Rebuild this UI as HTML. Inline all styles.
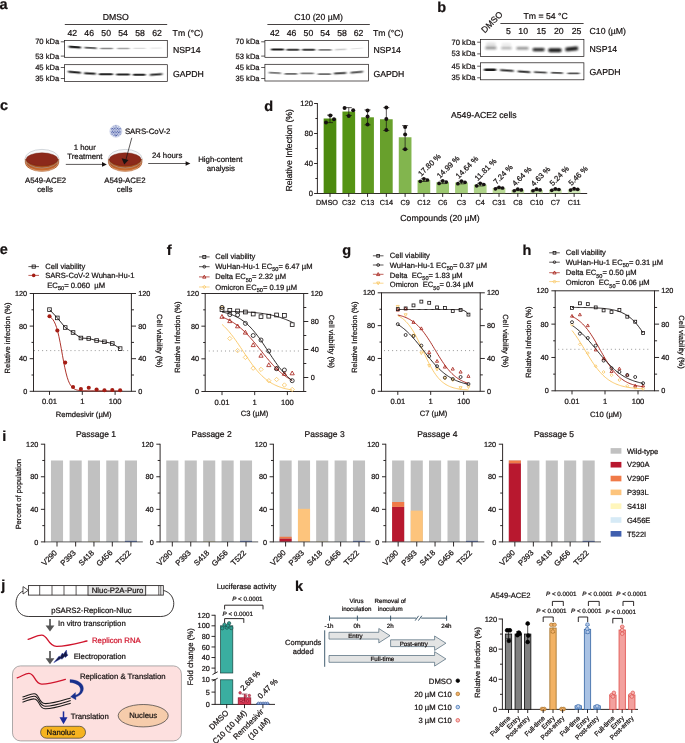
<!DOCTYPE html>
<html lang="en">
<head>
<meta charset="utf-8">
<title>NSP14 inhibitor figure</title>
<style>
html,body{margin:0;padding:0;background:#fff;}
body{width:685px;height:743px;overflow:hidden;}
svg{display:block;opacity:0.999;will-change:transform;font-family:"Liberation Sans",sans-serif;}
svg text{fill:#171212;stroke:#171212;stroke-width:0.22px;paint-order:stroke fill;text-rendering:geometricPrecision;}
</style>
</head>
<body>
<svg width="685" height="743" viewBox="0 0 685 743">
<defs>
<filter id="bl" x="-30%" y="-80%" width="160%" height="260%"><feGaussianBlur stdDeviation="0.9 0.62"/></filter>
<filter id="bl2" x="-30%" y="-120%" width="160%" height="340%"><feGaussianBlur stdDeviation="1.05 0.95"/></filter>
<linearGradient id="dg" x1="0" y1="0" x2="0" y2="1"><stop offset="0" stop-color="#9c4519"/><stop offset="0.55" stop-color="#b85a24"/><stop offset="1" stop-color="#cf7434"/></linearGradient>
<clipPath id="c64"><rect x="65.0" y="30" width="101.9" height="60"/></clipPath>
<clipPath id="c265"><rect x="265.3" y="30" width="102.8" height="60"/></clipPath>
<clipPath id="c481"><rect x="481.0" y="30" width="102.5" height="60"/></clipPath>
</defs>
<rect width="685" height="743" fill="#ffffff"/>
<text x="-0.40" y="8.60" font-size="14.5" font-weight="bold">a</text>
<text x="115.80" y="19.60" font-size="8.7" text-anchor="middle">DMSO</text>
<line x1="64.80" y1="24.50" x2="167.20" y2="24.50" stroke="#171212" stroke-width="0.8"/>
<text x="72.30" y="35.70" font-size="8.7" text-anchor="middle">42</text>
<text x="89.20" y="35.70" font-size="8.7" text-anchor="middle">46</text>
<text x="106.20" y="35.70" font-size="8.7" text-anchor="middle">50</text>
<text x="123.10" y="35.70" font-size="8.7" text-anchor="middle">54</text>
<text x="140.00" y="35.70" font-size="8.7" text-anchor="middle">58</text>
<text x="157.00" y="35.70" font-size="8.7" text-anchor="middle">62</text>
<text x="172.60" y="35.70" font-size="8.7">Tm (°C)</text>
<rect x="64.60" y="40.60" width="102.70" height="16.70" fill="#fff" stroke="#171212" stroke-width="0.7"/>
<rect x="64.60" y="64.70" width="102.70" height="16.70" fill="#fff" stroke="#171212" stroke-width="0.7"/>
<text x="59.20" y="44.30" font-size="7.6" text-anchor="end">70 kDa</text>
<line x1="60.80" y1="41.80" x2="64.60" y2="41.80" stroke="#171212" stroke-width="0.7"/>
<text x="59.20" y="58.60" font-size="7.6" text-anchor="end">53 kDa</text>
<line x1="60.80" y1="56.10" x2="64.60" y2="56.10" stroke="#171212" stroke-width="0.7"/>
<text x="59.20" y="70.00" font-size="7.6" text-anchor="end">45 kDa</text>
<line x1="60.80" y1="67.50" x2="64.60" y2="67.50" stroke="#171212" stroke-width="0.7"/>
<text x="59.20" y="81.00" font-size="7.6" text-anchor="end">35 kDa</text>
<line x1="60.80" y1="78.50" x2="64.60" y2="78.50" stroke="#171212" stroke-width="0.7"/>
<g clip-path="url(#c64)">
<rect x="68.60" y="46.09" width="12.40" height="2.22" rx="1.11" fill="#141414" opacity="0.95" filter="url(#bl)" transform="rotate(4 74.80 47.20)"/>
<rect x="84.40" y="46.94" width="12.40" height="1.92" rx="0.96" fill="#141414" opacity="0.72" filter="url(#bl)" transform="rotate(3 90.60 47.90)"/>
<rect x="100.20" y="47.76" width="12.80" height="1.48" rx="0.74" fill="#141414" opacity="0.5" filter="url(#bl)"/>
<rect x="117.20" y="47.83" width="12.40" height="1.33" rx="0.67" fill="#141414" opacity="0.38" filter="url(#bl)"/>
<rect x="133.40" y="47.81" width="12.20" height="1.18" rx="0.59" fill="#141414" opacity="0.15" filter="url(#bl)"/>
<rect x="150.40" y="47.55" width="11.40" height="1.11" rx="0.55" fill="#141414" opacity="0.1" filter="url(#bl)" transform="rotate(-2 156.10 48.10)"/>
<rect x="68.00" y="71.30" width="13.00" height="2.00" rx="1.00" fill="#141414" opacity="0.97" filter="url(#bl)" transform="rotate(5 74.50 72.30)"/>
<rect x="84.00" y="72.60" width="11.90" height="2.00" rx="1.00" fill="#141414" opacity="0.95" filter="url(#bl)" transform="rotate(3 89.95 73.60)"/>
<rect x="98.80" y="73.24" width="14.20" height="1.92" rx="0.96" fill="#141414" opacity="0.93" filter="url(#bl)"/>
<rect x="116.20" y="73.54" width="13.80" height="1.92" rx="0.96" fill="#141414" opacity="0.93" filter="url(#bl)"/>
<rect x="132.90" y="73.70" width="12.70" height="2.00" rx="1.00" fill="#141414" opacity="0.93" filter="url(#bl)"/>
<rect x="149.70" y="73.50" width="12.80" height="2.00" rx="1.00" fill="#141414" opacity="0.9" filter="url(#bl)" transform="rotate(-4 156.10 74.50)"/>
</g>
<text x="173.00" y="52.80" font-size="8.7">NSP14</text>
<text x="173.00" y="76.60" font-size="8.7">GAPDH</text>
<text x="318.60" y="19.60" font-size="8.7" text-anchor="middle">C10 (20 µM)</text>
<line x1="267.40" y1="24.50" x2="369.80" y2="24.50" stroke="#171212" stroke-width="0.8"/>
<text x="274.80" y="35.70" font-size="8.7" text-anchor="middle">42</text>
<text x="291.60" y="35.70" font-size="8.7" text-anchor="middle">46</text>
<text x="308.40" y="35.70" font-size="8.7" text-anchor="middle">50</text>
<text x="325.20" y="35.70" font-size="8.7" text-anchor="middle">54</text>
<text x="342.00" y="35.70" font-size="8.7" text-anchor="middle">58</text>
<text x="358.60" y="35.70" font-size="8.7" text-anchor="middle">62</text>
<text x="372.90" y="35.70" font-size="8.7">Tm (°C)</text>
<rect x="264.90" y="40.60" width="103.60" height="16.70" fill="#fff" stroke="#171212" stroke-width="0.7"/>
<rect x="264.90" y="64.30" width="103.60" height="16.70" fill="#fff" stroke="#171212" stroke-width="0.7"/>
<text x="259.60" y="44.30" font-size="7.6" text-anchor="end">70 kDa</text>
<line x1="261.20" y1="41.80" x2="264.90" y2="41.80" stroke="#171212" stroke-width="0.7"/>
<text x="259.60" y="58.60" font-size="7.6" text-anchor="end">53 kDa</text>
<line x1="261.20" y1="56.10" x2="264.90" y2="56.10" stroke="#171212" stroke-width="0.7"/>
<text x="259.60" y="70.00" font-size="7.6" text-anchor="end">45 kDa</text>
<line x1="261.20" y1="67.50" x2="264.90" y2="67.50" stroke="#171212" stroke-width="0.7"/>
<text x="259.60" y="81.00" font-size="7.6" text-anchor="end">35 kDa</text>
<line x1="261.20" y1="78.50" x2="264.90" y2="78.50" stroke="#171212" stroke-width="0.7"/>
<g clip-path="url(#c265)">
<rect x="271.00" y="48.39" width="13.00" height="2.22" rx="1.11" fill="#141414" opacity="0.97" filter="url(#bl)"/>
<rect x="286.40" y="48.76" width="13.00" height="2.07" rx="1.04" fill="#141414" opacity="0.82" filter="url(#bl)"/>
<rect x="302.10" y="48.76" width="13.10" height="2.07" rx="1.04" fill="#141414" opacity="0.82" filter="url(#bl)"/>
<rect x="318.50" y="49.05" width="13.10" height="1.70" rx="0.85" fill="#141414" opacity="0.55" filter="url(#bl)"/>
<rect x="334.90" y="48.87" width="11.60" height="1.26" rx="0.63" fill="#141414" opacity="0.22" filter="url(#bl)" transform="rotate(-3 340.70 49.50)"/>
<rect x="350.90" y="47.95" width="12.00" height="1.11" rx="0.55" fill="#141414" opacity="0.12" filter="url(#bl)" transform="rotate(-4 356.90 48.50)"/>
<rect x="268.70" y="71.94" width="12.30" height="1.92" rx="0.96" fill="#141414" opacity="0.58" filter="url(#bl)" transform="rotate(3 274.85 72.90)"/>
<rect x="284.50" y="72.94" width="12.90" height="1.92" rx="0.96" fill="#141414" opacity="0.62" filter="url(#bl)"/>
<rect x="300.40" y="72.48" width="13.50" height="1.85" rx="0.93" fill="#141414" opacity="0.56" filter="url(#bl)"/>
<rect x="317.70" y="73.14" width="13.40" height="1.92" rx="0.96" fill="#141414" opacity="0.62" filter="url(#bl)"/>
<rect x="333.80" y="72.26" width="12.70" height="2.07" rx="1.04" fill="#141414" opacity="0.78" filter="url(#bl)" transform="rotate(-3 340.15 73.30)"/>
<rect x="350.30" y="71.30" width="12.90" height="2.00" rx="1.00" fill="#141414" opacity="0.72" filter="url(#bl)" transform="rotate(-5 356.75 72.30)"/>
</g>
<text x="373.40" y="52.80" font-size="8.7">NSP14</text>
<text x="373.40" y="76.60" font-size="8.7">GAPDH</text>
<text x="437.20" y="11.80" font-size="14.5" font-weight="bold">b</text>
<text x="545.60" y="18.80" font-size="8.7" text-anchor="middle">Tm = 54 °C</text>
<line x1="500.40" y1="23.50" x2="583.60" y2="23.50" stroke="#171212" stroke-width="0.8"/>
<text x="484.80" y="33.40" font-size="8.7" transform="rotate(-45 484.80 33.40)">DMSO</text>
<text x="508.40" y="34.40" font-size="8.7" text-anchor="middle">5</text>
<text x="523.20" y="34.40" font-size="8.7" text-anchor="middle">10</text>
<text x="541.30" y="34.40" font-size="8.7" text-anchor="middle">15</text>
<text x="558.80" y="34.40" font-size="8.7" text-anchor="middle">20</text>
<text x="576.50" y="34.40" font-size="8.7" text-anchor="middle">25</text>
<text x="589.60" y="34.40" font-size="8.7">C10 (µM)</text>
<rect x="480.60" y="39.50" width="103.30" height="16.90" fill="#fff" stroke="#171212" stroke-width="0.7"/>
<rect x="480.60" y="62.80" width="103.30" height="17.00" fill="#fff" stroke="#171212" stroke-width="0.7"/>
<text x="475.60" y="44.70" font-size="7.6" text-anchor="end">70 kDa</text>
<line x1="477.20" y1="42.20" x2="480.60" y2="42.20" stroke="#171212" stroke-width="0.7"/>
<text x="475.60" y="56.40" font-size="7.6" text-anchor="end">53 kDa</text>
<line x1="477.20" y1="53.90" x2="480.60" y2="53.90" stroke="#171212" stroke-width="0.7"/>
<text x="475.60" y="68.70" font-size="7.6" text-anchor="end">45 kDa</text>
<line x1="477.20" y1="66.20" x2="480.60" y2="66.20" stroke="#171212" stroke-width="0.7"/>
<text x="475.60" y="80.30" font-size="7.6" text-anchor="end">35 kDa</text>
<line x1="477.20" y1="77.80" x2="480.60" y2="77.80" stroke="#171212" stroke-width="0.7"/>
<g clip-path="url(#c481)">
<rect x="485.20" y="46.70" width="11.40" height="2.60" rx="1.30" fill="#141414" opacity="0.5" filter="url(#bl2)"/>
<rect x="485.80" y="42.40" width="10.20" height="4.00" rx="2.00" fill="#141414" opacity="0.13" filter="url(#bl2)"/>
<rect x="501.00" y="47.10" width="10.80" height="2.20" rx="1.10" fill="#141414" opacity="0.36" filter="url(#bl2)"/>
<rect x="501.40" y="43.00" width="9.80" height="3.60" rx="1.80" fill="#141414" opacity="0.08" filter="url(#bl2)"/>
<rect x="516.40" y="47.00" width="12.20" height="2.40" rx="1.20" fill="#141414" opacity="0.5" filter="url(#bl2)"/>
<rect x="532.60" y="48.20" width="12.00" height="2.80" rx="1.40" fill="#141414" opacity="0.95" filter="url(#bl2)"/>
<rect x="548.20" y="48.45" width="13.40" height="3.30" rx="1.65" fill="#141414" opacity="1.0" filter="url(#bl2)"/>
<rect x="565.20" y="47.20" width="13.00" height="3.20" rx="1.60" fill="#141414" opacity="1.0" filter="url(#bl2)" transform="rotate(-6 571.70 48.80)"/>
<rect x="533.40" y="49.00" width="10.60" height="1.60" rx="0.80" fill="#141414" opacity="0.55" filter="url(#bl2)"/>
<rect x="549.00" y="49.40" width="12.00" height="2.00" rx="1.00" fill="#141414" opacity="0.7" filter="url(#bl2)"/>
<rect x="566.00" y="48.00" width="11.60" height="2.00" rx="1.00" fill="#141414" opacity="0.7" filter="url(#bl2)" transform="rotate(-6 571.80 49.00)"/>
<rect x="484.00" y="68.48" width="12.20" height="2.44" rx="1.22" fill="#141414" opacity="0.97" filter="url(#bl)"/>
<rect x="500.00" y="69.43" width="13.80" height="2.15" rx="1.07" fill="#141414" opacity="0.88" filter="url(#bl)" transform="rotate(4 506.90 70.50)"/>
<rect x="517.60" y="70.63" width="12.80" height="2.15" rx="1.07" fill="#141414" opacity="0.88" filter="url(#bl)" transform="rotate(4 524.00 71.70)"/>
<rect x="533.80" y="71.38" width="13.20" height="1.85" rx="0.93" fill="#141414" opacity="0.8" filter="url(#bl)" transform="rotate(3 540.40 72.30)"/>
<rect x="551.00" y="71.98" width="12.00" height="1.85" rx="0.93" fill="#141414" opacity="0.75" filter="url(#bl)" transform="rotate(2 557.00 72.90)"/>
<rect x="567.40" y="72.41" width="12.20" height="1.78" rx="0.89" fill="#141414" opacity="0.72" filter="url(#bl)"/>
</g>
<text x="589.60" y="51.50" font-size="8.7">NSP14</text>
<text x="589.60" y="75.40" font-size="8.7">GAPDH</text>
<text x="0.00" y="109.50" font-size="14.5" font-weight="bold">c</text>
<path d="M25.10,158.70 v3.5 a16.9,9.3 0 0 0 33.80,0 v-3.5 z" fill="url(#dg)" stroke="#9c4a1c" stroke-width="0.35"/>
<path d="M25.10,158.70 a16.90,9.30 0 0 0 33.80,0 z" fill="#a8501d"/>
<path d="M25.10,159.00 A16.90,9.60 0 0 1 58.90,159.00 z" fill="#f6f7f9"/>
<ellipse cx="42.00" cy="158.70" rx="16.90" ry="9.30" fill="none" stroke="#a9b0b8" stroke-width="0.5"/>
<path d="M25.70,161.70 a16.30,9.30 0 0 0 32.60,0" fill="none" stroke="#e6cbb8" stroke-width="0.45"/>
<ellipse cx="42.00" cy="159.30" rx="15.8" ry="6.5" fill="#8c291b" stroke="#6f1f10" stroke-width="0.4"/>
<path d="M108.30,158.70 v3.5 a16.9,9.3 0 0 0 33.80,0 v-3.5 z" fill="url(#dg)" stroke="#9c4a1c" stroke-width="0.35"/>
<path d="M108.30,158.70 a16.90,9.30 0 0 0 33.80,0 z" fill="#a8501d"/>
<path d="M108.30,159.00 A16.90,9.60 0 0 1 142.10,159.00 z" fill="#f6f7f9"/>
<ellipse cx="125.20" cy="158.70" rx="16.90" ry="9.30" fill="none" stroke="#a9b0b8" stroke-width="0.5"/>
<path d="M108.90,161.70 a16.30,9.30 0 0 0 32.60,0" fill="none" stroke="#e6cbb8" stroke-width="0.45"/>
<ellipse cx="125.20" cy="159.30" rx="15.8" ry="6.5" fill="#8c291b" stroke="#6f1f10" stroke-width="0.4"/>
<text x="45.60" y="183.00" font-size="7.8" text-anchor="middle">A549-ACE2</text>
<text x="45.00" y="191.70" font-size="7.8" text-anchor="middle">cells</text>
<text x="124.90" y="183.00" font-size="7.8" text-anchor="middle">A549-ACE2</text>
<text x="124.60" y="191.70" font-size="7.8" text-anchor="middle">cells</text>
<text x="84.70" y="149.50" font-size="7.8" text-anchor="middle">1 hour</text>
<text x="84.90" y="158.80" font-size="7.8" text-anchor="middle">Treatment</text>
<line x1="65.80" y1="164.40" x2="103.80" y2="164.40" stroke="#171212" stroke-width="0.7"/>
<path d="M106.80,164.40 l-4.8,-2.3 v4.6 z" fill="#171212" stroke="none" stroke-width="0.9"/>
<line x1="148.20" y1="163.50" x2="187.40" y2="163.50" stroke="#171212" stroke-width="0.7"/>
<path d="M190.40,163.50 l-4.8,-2.3 v4.6 z" fill="#171212" stroke="none" stroke-width="0.9"/>
<text x="167.20" y="158.20" font-size="7.8" text-anchor="middle">24 hours</text>
<text x="220.30" y="162.10" font-size="7.8" text-anchor="middle">High-content</text>
<text x="220.80" y="170.90" font-size="7.8" text-anchor="middle">analysis</text>
<circle cx="115.90" cy="131.20" r="6.0" fill="#e9edf7" stroke="#8f9dcc" stroke-width="0.4"/>
<circle cx="115.90" cy="125.77" r="0.48" fill="#34489c" stroke="none" stroke-width="0.6"/>
<circle cx="113.50" cy="127.03" r="0.48" fill="#34489c" stroke="none" stroke-width="0.6"/>
<circle cx="115.09" cy="126.96" r="0.58" fill="#34489c" stroke="none" stroke-width="0.6"/>
<circle cx="116.71" cy="126.96" r="0.58" fill="#34489c" stroke="none" stroke-width="0.6"/>
<circle cx="118.30" cy="127.03" r="0.48" fill="#34489c" stroke="none" stroke-width="0.6"/>
<circle cx="111.21" cy="128.48" r="0.48" fill="#34489c" stroke="none" stroke-width="0.6"/>
<circle cx="112.65" cy="128.37" r="0.58" fill="#34489c" stroke="none" stroke-width="0.6"/>
<circle cx="114.24" cy="128.31" r="0.58" fill="#34489c" stroke="none" stroke-width="0.6"/>
<circle cx="115.90" cy="128.29" r="0.58" fill="#34489c" stroke="none" stroke-width="0.6"/>
<circle cx="117.56" cy="128.31" r="0.58" fill="#34489c" stroke="none" stroke-width="0.6"/>
<circle cx="119.15" cy="128.37" r="0.58" fill="#34489c" stroke="none" stroke-width="0.6"/>
<circle cx="120.59" cy="128.48" r="0.48" fill="#34489c" stroke="none" stroke-width="0.6"/>
<circle cx="111.84" cy="129.79" r="0.58" fill="#34489c" stroke="none" stroke-width="0.6"/>
<circle cx="113.39" cy="129.74" r="0.58" fill="#34489c" stroke="none" stroke-width="0.6"/>
<circle cx="115.05" cy="129.72" r="0.58" fill="#34489c" stroke="none" stroke-width="0.6"/>
<circle cx="116.75" cy="129.72" r="0.58" fill="#34489c" stroke="none" stroke-width="0.6"/>
<circle cx="118.41" cy="129.74" r="0.58" fill="#34489c" stroke="none" stroke-width="0.6"/>
<circle cx="119.96" cy="129.79" r="0.58" fill="#34489c" stroke="none" stroke-width="0.6"/>
<circle cx="111.10" cy="131.20" r="0.48" fill="#34489c" stroke="none" stroke-width="0.6"/>
<circle cx="112.58" cy="131.20" r="0.58" fill="#34489c" stroke="none" stroke-width="0.6"/>
<circle cx="114.20" cy="131.20" r="0.58" fill="#34489c" stroke="none" stroke-width="0.6"/>
<circle cx="115.90" cy="131.20" r="0.58" fill="#34489c" stroke="none" stroke-width="0.6"/>
<circle cx="117.60" cy="131.20" r="0.58" fill="#34489c" stroke="none" stroke-width="0.6"/>
<circle cx="119.22" cy="131.20" r="0.58" fill="#34489c" stroke="none" stroke-width="0.6"/>
<circle cx="120.70" cy="131.20" r="0.48" fill="#34489c" stroke="none" stroke-width="0.6"/>
<circle cx="111.84" cy="132.61" r="0.58" fill="#34489c" stroke="none" stroke-width="0.6"/>
<circle cx="113.39" cy="132.66" r="0.58" fill="#34489c" stroke="none" stroke-width="0.6"/>
<circle cx="115.05" cy="132.68" r="0.58" fill="#34489c" stroke="none" stroke-width="0.6"/>
<circle cx="116.75" cy="132.68" r="0.58" fill="#34489c" stroke="none" stroke-width="0.6"/>
<circle cx="118.41" cy="132.66" r="0.58" fill="#34489c" stroke="none" stroke-width="0.6"/>
<circle cx="119.96" cy="132.61" r="0.58" fill="#34489c" stroke="none" stroke-width="0.6"/>
<circle cx="111.21" cy="133.92" r="0.48" fill="#34489c" stroke="none" stroke-width="0.6"/>
<circle cx="112.65" cy="134.03" r="0.58" fill="#34489c" stroke="none" stroke-width="0.6"/>
<circle cx="114.24" cy="134.09" r="0.58" fill="#34489c" stroke="none" stroke-width="0.6"/>
<circle cx="115.90" cy="134.11" r="0.58" fill="#34489c" stroke="none" stroke-width="0.6"/>
<circle cx="117.56" cy="134.09" r="0.58" fill="#34489c" stroke="none" stroke-width="0.6"/>
<circle cx="119.15" cy="134.03" r="0.58" fill="#34489c" stroke="none" stroke-width="0.6"/>
<circle cx="120.59" cy="133.92" r="0.48" fill="#34489c" stroke="none" stroke-width="0.6"/>
<circle cx="113.50" cy="135.37" r="0.48" fill="#34489c" stroke="none" stroke-width="0.6"/>
<circle cx="115.09" cy="135.44" r="0.58" fill="#34489c" stroke="none" stroke-width="0.6"/>
<circle cx="116.71" cy="135.44" r="0.58" fill="#34489c" stroke="none" stroke-width="0.6"/>
<circle cx="118.30" cy="135.37" r="0.48" fill="#34489c" stroke="none" stroke-width="0.6"/>
<circle cx="115.90" cy="136.63" r="0.48" fill="#34489c" stroke="none" stroke-width="0.6"/>
<text x="124.90" y="134.00" font-size="7.8">SARS-CoV-2</text>
<line x1="131.80" y1="137.80" x2="125.80" y2="160.00" stroke="#171212" stroke-width="0.7"/>
<path d="M124.3,164.6 L121.6,158.3 L128.5,159.9 Z" fill="#171212" stroke="none" stroke-width="0.9"/>
<text x="264.20" y="111.00" font-size="14.5" font-weight="bold">d</text>
<line x1="317.40" y1="103.10" x2="317.40" y2="193.50" stroke="#171212" stroke-width="0.9"/>
<line x1="317.00" y1="193.50" x2="587.20" y2="193.50" stroke="#171212" stroke-width="0.9"/>
<line x1="314.10" y1="193.50" x2="317.40" y2="193.50" stroke="#171212" stroke-width="0.9"/>
<text x="312.90" y="196.20" font-size="7.6" text-anchor="end">0</text>
<line x1="314.10" y1="163.50" x2="317.40" y2="163.50" stroke="#171212" stroke-width="0.9"/>
<text x="312.90" y="166.20" font-size="7.6" text-anchor="end">40</text>
<line x1="314.10" y1="133.50" x2="317.40" y2="133.50" stroke="#171212" stroke-width="0.9"/>
<text x="312.90" y="136.20" font-size="7.6" text-anchor="end">80</text>
<line x1="314.10" y1="103.50" x2="317.40" y2="103.50" stroke="#171212" stroke-width="0.9"/>
<text x="312.90" y="106.20" font-size="7.6" text-anchor="end">120</text>
<line x1="315.40" y1="178.50" x2="317.40" y2="178.50" stroke="#171212" stroke-width="0.9"/>
<line x1="315.40" y1="148.50" x2="317.40" y2="148.50" stroke="#171212" stroke-width="0.9"/>
<line x1="315.40" y1="118.50" x2="317.40" y2="118.50" stroke="#171212" stroke-width="0.9"/>
<text x="292.30" y="150.30" font-size="8.7" text-anchor="middle" transform="rotate(-90 292.30 150.30)">Relative Infection (%)</text>
<text x="483.80" y="117.60" font-size="8.7" text-anchor="middle">A549-ACE2 cells</text>
<text x="440.00" y="220.60" font-size="8.7" text-anchor="middle">Compounds (20 µM)</text>
<rect x="323.65" y="118.50" width="12.70" height="74.70" fill="#4c8a0e" stroke="none" stroke-width="0.9"/>
<line x1="330.00" y1="193.50" x2="330.00" y2="196.90" stroke="#171212" stroke-width="0.9"/>
<text x="327.00" y="205.30" font-size="7.3" text-anchor="middle">DMSO</text>
<line x1="330.00" y1="122.62" x2="330.00" y2="115.12" stroke="#171212" stroke-width="0.7"/>
<line x1="327.00" y1="122.62" x2="333.00" y2="122.62" stroke="#171212" stroke-width="0.7"/>
<line x1="327.00" y1="115.12" x2="333.00" y2="115.12" stroke="#171212" stroke-width="0.7"/>
<circle cx="326.00" cy="122.62" r="2.0" fill="#171212" stroke="none" stroke-width="0.6"/>
<circle cx="330.30" cy="115.50" r="2.0" fill="#171212" stroke="none" stroke-width="0.6"/>
<circle cx="334.00" cy="119.25" r="2.0" fill="#171212" stroke="none" stroke-width="0.6"/>
<rect x="342.43" y="111.53" width="12.70" height="81.67" fill="#559414" stroke="none" stroke-width="0.9"/>
<line x1="348.78" y1="193.50" x2="348.78" y2="196.90" stroke="#171212" stroke-width="0.9"/>
<text x="348.78" y="205.30" font-size="7.3" text-anchor="middle">C32</text>
<line x1="348.78" y1="115.50" x2="348.78" y2="107.62" stroke="#171212" stroke-width="0.7"/>
<line x1="345.78" y1="115.50" x2="351.78" y2="115.50" stroke="#171212" stroke-width="0.7"/>
<line x1="345.78" y1="107.62" x2="351.78" y2="107.62" stroke="#171212" stroke-width="0.7"/>
<circle cx="344.58" cy="108.00" r="2.0" fill="#171212" stroke="none" stroke-width="0.6"/>
<circle cx="348.78" cy="115.88" r="2.0" fill="#171212" stroke="none" stroke-width="0.6"/>
<circle cx="353.18" cy="110.25" r="2.0" fill="#171212" stroke="none" stroke-width="0.6"/>
<rect x="361.21" y="117.30" width="12.70" height="75.90" fill="#5f9a20" stroke="none" stroke-width="0.9"/>
<line x1="367.56" y1="193.50" x2="367.56" y2="196.90" stroke="#171212" stroke-width="0.9"/>
<text x="367.56" y="205.30" font-size="7.3" text-anchor="middle">C13</text>
<line x1="367.56" y1="124.88" x2="367.56" y2="109.88" stroke="#171212" stroke-width="0.7"/>
<line x1="364.56" y1="124.88" x2="370.56" y2="124.88" stroke="#171212" stroke-width="0.7"/>
<line x1="364.56" y1="109.88" x2="370.56" y2="109.88" stroke="#171212" stroke-width="0.7"/>
<circle cx="367.56" cy="124.50" r="2.0" fill="#171212" stroke="none" stroke-width="0.6"/>
<circle cx="367.56" cy="116.62" r="2.0" fill="#171212" stroke="none" stroke-width="0.6"/>
<circle cx="367.56" cy="110.62" r="2.0" fill="#171212" stroke="none" stroke-width="0.6"/>
<rect x="379.99" y="119.25" width="12.70" height="73.95" fill="#68a02c" stroke="none" stroke-width="0.9"/>
<line x1="386.34" y1="193.50" x2="386.34" y2="196.90" stroke="#171212" stroke-width="0.9"/>
<text x="386.34" y="205.30" font-size="7.3" text-anchor="middle">C14</text>
<line x1="386.34" y1="130.50" x2="386.34" y2="107.62" stroke="#171212" stroke-width="0.7"/>
<line x1="383.34" y1="130.50" x2="389.34" y2="130.50" stroke="#171212" stroke-width="0.7"/>
<line x1="383.34" y1="107.62" x2="389.34" y2="107.62" stroke="#171212" stroke-width="0.7"/>
<circle cx="386.34" cy="130.12" r="2.0" fill="#171212" stroke="none" stroke-width="0.6"/>
<circle cx="386.34" cy="118.88" r="2.0" fill="#171212" stroke="none" stroke-width="0.6"/>
<circle cx="386.34" cy="107.62" r="2.0" fill="#171212" stroke="none" stroke-width="0.6"/>
<rect x="398.77" y="137.25" width="12.70" height="55.95" fill="#82b54e" stroke="none" stroke-width="0.9"/>
<line x1="405.12" y1="193.50" x2="405.12" y2="196.90" stroke="#171212" stroke-width="0.9"/>
<text x="405.12" y="205.30" font-size="7.3" text-anchor="middle">C9</text>
<line x1="405.12" y1="149.25" x2="405.12" y2="125.62" stroke="#171212" stroke-width="0.7"/>
<line x1="402.12" y1="149.25" x2="408.12" y2="149.25" stroke="#171212" stroke-width="0.7"/>
<line x1="402.12" y1="125.62" x2="408.12" y2="125.62" stroke="#171212" stroke-width="0.7"/>
<circle cx="405.12" cy="149.25" r="2.0" fill="#171212" stroke="none" stroke-width="0.6"/>
<circle cx="405.12" cy="134.62" r="2.0" fill="#171212" stroke="none" stroke-width="0.6"/>
<circle cx="405.12" cy="127.12" r="2.0" fill="#171212" stroke="none" stroke-width="0.6"/>
<rect x="417.55" y="180.15" width="12.70" height="13.05" fill="#8fbf5e" stroke="none" stroke-width="0.9"/>
<line x1="423.90" y1="193.50" x2="423.90" y2="196.90" stroke="#171212" stroke-width="0.9"/>
<text x="423.90" y="205.30" font-size="7.3" text-anchor="middle">C12</text>
<line x1="423.90" y1="181.50" x2="423.90" y2="178.80" stroke="#171212" stroke-width="0.7"/>
<line x1="420.90" y1="178.80" x2="426.90" y2="178.80" stroke="#171212" stroke-width="0.7"/>
<line x1="420.90" y1="181.50" x2="426.90" y2="181.50" stroke="#171212" stroke-width="0.7"/>
<circle cx="420.30" cy="181.35" r="1.85" fill="#171212" stroke="none" stroke-width="0.6"/>
<circle cx="423.90" cy="178.80" r="1.85" fill="#171212" stroke="none" stroke-width="0.6"/>
<circle cx="427.50" cy="180.00" r="1.85" fill="#171212" stroke="none" stroke-width="0.6"/>
<text x="421.30" y="176.75" font-size="7.7" transform="rotate(-45 421.30 176.75)">17.80 %</text>
<rect x="436.33" y="182.26" width="12.70" height="10.94" fill="#9cc870" stroke="none" stroke-width="0.9"/>
<line x1="442.68" y1="193.50" x2="442.68" y2="196.90" stroke="#171212" stroke-width="0.9"/>
<text x="442.68" y="205.30" font-size="7.3" text-anchor="middle">C6</text>
<line x1="442.68" y1="183.61" x2="442.68" y2="180.91" stroke="#171212" stroke-width="0.7"/>
<line x1="439.68" y1="180.91" x2="445.68" y2="180.91" stroke="#171212" stroke-width="0.7"/>
<line x1="439.68" y1="183.61" x2="445.68" y2="183.61" stroke="#171212" stroke-width="0.7"/>
<circle cx="439.08" cy="183.46" r="1.85" fill="#171212" stroke="none" stroke-width="0.6"/>
<circle cx="442.68" cy="180.91" r="1.85" fill="#171212" stroke="none" stroke-width="0.6"/>
<circle cx="446.28" cy="182.11" r="1.85" fill="#171212" stroke="none" stroke-width="0.6"/>
<text x="440.08" y="178.86" font-size="7.7" transform="rotate(-45 440.08 178.86)">14.99 %</text>
<rect x="455.11" y="182.52" width="12.70" height="10.68" fill="#a4cd7a" stroke="none" stroke-width="0.9"/>
<line x1="461.46" y1="193.50" x2="461.46" y2="196.90" stroke="#171212" stroke-width="0.9"/>
<text x="461.46" y="205.30" font-size="7.3" text-anchor="middle">C3</text>
<line x1="461.46" y1="183.87" x2="461.46" y2="181.17" stroke="#171212" stroke-width="0.7"/>
<line x1="458.46" y1="181.17" x2="464.46" y2="181.17" stroke="#171212" stroke-width="0.7"/>
<line x1="458.46" y1="183.87" x2="464.46" y2="183.87" stroke="#171212" stroke-width="0.7"/>
<circle cx="457.86" cy="183.72" r="1.85" fill="#171212" stroke="none" stroke-width="0.6"/>
<circle cx="461.46" cy="181.17" r="1.85" fill="#171212" stroke="none" stroke-width="0.6"/>
<circle cx="465.06" cy="182.37" r="1.85" fill="#171212" stroke="none" stroke-width="0.6"/>
<text x="458.86" y="179.12" font-size="7.7" transform="rotate(-45 458.86 179.12)">14.64 %</text>
<rect x="473.89" y="184.64" width="12.70" height="8.56" fill="#aed388" stroke="none" stroke-width="0.9"/>
<line x1="480.24" y1="193.50" x2="480.24" y2="196.90" stroke="#171212" stroke-width="0.9"/>
<text x="480.24" y="205.30" font-size="7.3" text-anchor="middle">C4</text>
<line x1="480.24" y1="185.99" x2="480.24" y2="183.29" stroke="#171212" stroke-width="0.7"/>
<line x1="477.24" y1="183.29" x2="483.24" y2="183.29" stroke="#171212" stroke-width="0.7"/>
<line x1="477.24" y1="185.99" x2="483.24" y2="185.99" stroke="#171212" stroke-width="0.7"/>
<circle cx="476.64" cy="185.84" r="1.85" fill="#171212" stroke="none" stroke-width="0.6"/>
<circle cx="480.24" cy="183.29" r="1.85" fill="#171212" stroke="none" stroke-width="0.6"/>
<circle cx="483.84" cy="184.49" r="1.85" fill="#171212" stroke="none" stroke-width="0.6"/>
<text x="477.64" y="181.24" font-size="7.7" transform="rotate(-45 477.64 181.24)">11.81 %</text>
<rect x="492.67" y="188.07" width="12.70" height="5.13" fill="#b8d994" stroke="none" stroke-width="0.9"/>
<line x1="499.02" y1="193.50" x2="499.02" y2="196.90" stroke="#171212" stroke-width="0.9"/>
<text x="499.02" y="205.30" font-size="7.3" text-anchor="middle">C31</text>
<line x1="499.02" y1="188.75" x2="499.02" y2="187.40" stroke="#171212" stroke-width="0.7"/>
<line x1="496.02" y1="187.40" x2="502.02" y2="187.40" stroke="#171212" stroke-width="0.7"/>
<line x1="496.02" y1="188.75" x2="502.02" y2="188.75" stroke="#171212" stroke-width="0.7"/>
<circle cx="495.42" cy="188.79" r="1.85" fill="#171212" stroke="none" stroke-width="0.6"/>
<circle cx="499.02" cy="187.26" r="1.85" fill="#171212" stroke="none" stroke-width="0.6"/>
<circle cx="502.62" cy="187.98" r="1.85" fill="#171212" stroke="none" stroke-width="0.6"/>
<text x="496.42" y="184.67" font-size="7.7" transform="rotate(-45 496.42 184.67)">7.24 %</text>
<rect x="511.45" y="190.02" width="12.70" height="3.18" fill="#c0dea0" stroke="none" stroke-width="0.9"/>
<line x1="517.80" y1="193.50" x2="517.80" y2="196.90" stroke="#171212" stroke-width="0.9"/>
<text x="517.80" y="205.30" font-size="7.3" text-anchor="middle">C8</text>
<line x1="517.80" y1="190.69" x2="517.80" y2="189.34" stroke="#171212" stroke-width="0.7"/>
<line x1="514.80" y1="189.34" x2="520.80" y2="189.34" stroke="#171212" stroke-width="0.7"/>
<line x1="514.80" y1="190.69" x2="520.80" y2="190.69" stroke="#171212" stroke-width="0.7"/>
<circle cx="514.20" cy="190.74" r="1.85" fill="#171212" stroke="none" stroke-width="0.6"/>
<circle cx="517.80" cy="189.21" r="1.85" fill="#171212" stroke="none" stroke-width="0.6"/>
<circle cx="521.40" cy="189.93" r="1.85" fill="#171212" stroke="none" stroke-width="0.6"/>
<text x="515.20" y="186.62" font-size="7.7" transform="rotate(-45 515.20 186.62)">4.64 %</text>
<rect x="530.23" y="190.03" width="12.70" height="3.17" fill="#c6e2a8" stroke="none" stroke-width="0.9"/>
<line x1="536.58" y1="193.50" x2="536.58" y2="196.90" stroke="#171212" stroke-width="0.9"/>
<text x="536.58" y="205.30" font-size="7.3" text-anchor="middle">C10</text>
<line x1="536.58" y1="190.70" x2="536.58" y2="189.35" stroke="#171212" stroke-width="0.7"/>
<line x1="533.58" y1="189.35" x2="539.58" y2="189.35" stroke="#171212" stroke-width="0.7"/>
<line x1="533.58" y1="190.70" x2="539.58" y2="190.70" stroke="#171212" stroke-width="0.7"/>
<circle cx="532.98" cy="190.75" r="1.85" fill="#171212" stroke="none" stroke-width="0.6"/>
<circle cx="536.58" cy="189.22" r="1.85" fill="#171212" stroke="none" stroke-width="0.6"/>
<circle cx="540.18" cy="189.94" r="1.85" fill="#171212" stroke="none" stroke-width="0.6"/>
<text x="533.98" y="186.63" font-size="7.7" transform="rotate(-45 533.98 186.63)">4.63 %</text>
<rect x="549.01" y="189.57" width="12.70" height="3.63" fill="#cbe5b0" stroke="none" stroke-width="0.9"/>
<line x1="555.36" y1="193.50" x2="555.36" y2="196.90" stroke="#171212" stroke-width="0.9"/>
<text x="555.36" y="205.30" font-size="7.3" text-anchor="middle">C7</text>
<line x1="555.36" y1="190.25" x2="555.36" y2="188.90" stroke="#171212" stroke-width="0.7"/>
<line x1="552.36" y1="188.90" x2="558.36" y2="188.90" stroke="#171212" stroke-width="0.7"/>
<line x1="552.36" y1="190.25" x2="558.36" y2="190.25" stroke="#171212" stroke-width="0.7"/>
<circle cx="551.76" cy="190.29" r="1.85" fill="#171212" stroke="none" stroke-width="0.6"/>
<circle cx="555.36" cy="188.76" r="1.85" fill="#171212" stroke="none" stroke-width="0.6"/>
<circle cx="558.96" cy="189.48" r="1.85" fill="#171212" stroke="none" stroke-width="0.6"/>
<text x="552.76" y="186.17" font-size="7.7" transform="rotate(-45 552.76 186.17)">5.24 %</text>
<rect x="567.79" y="189.41" width="12.70" height="3.79" fill="#d0e8b8" stroke="none" stroke-width="0.9"/>
<line x1="574.14" y1="193.50" x2="574.14" y2="196.90" stroke="#171212" stroke-width="0.9"/>
<text x="574.14" y="205.30" font-size="7.3" text-anchor="middle">C11</text>
<line x1="574.14" y1="190.08" x2="574.14" y2="188.73" stroke="#171212" stroke-width="0.7"/>
<line x1="571.14" y1="188.73" x2="577.14" y2="188.73" stroke="#171212" stroke-width="0.7"/>
<line x1="571.14" y1="190.08" x2="577.14" y2="190.08" stroke="#171212" stroke-width="0.7"/>
<circle cx="570.54" cy="190.12" r="1.85" fill="#171212" stroke="none" stroke-width="0.6"/>
<circle cx="574.14" cy="188.59" r="1.85" fill="#171212" stroke="none" stroke-width="0.6"/>
<circle cx="577.74" cy="189.31" r="1.85" fill="#171212" stroke="none" stroke-width="0.6"/>
<text x="571.54" y="186.00" font-size="7.7" transform="rotate(-45 571.54 186.00)">5.46 %</text>
<text x="-0.20" y="254.00" font-size="14.5" font-weight="bold">e</text>
<line x1="33.50" y1="293.10" x2="33.50" y2="391.70" stroke="#171212" stroke-width="0.9"/>
<line x1="131.40" y1="293.10" x2="131.40" y2="391.70" stroke="#171212" stroke-width="0.9"/>
<line x1="33.50" y1="391.30" x2="131.40" y2="391.30" stroke="#171212" stroke-width="0.9"/>
<line x1="33.50" y1="293.50" x2="131.40" y2="293.50" stroke="#171212" stroke-width="0.9"/>
<line x1="29.70" y1="391.30" x2="33.50" y2="391.30" stroke="#171212" stroke-width="0.9"/>
<text x="27.20" y="393.90" font-size="7.3" text-anchor="end">0</text>
<line x1="31.50" y1="375.00" x2="33.50" y2="375.00" stroke="#171212" stroke-width="0.9"/>
<line x1="29.70" y1="358.70" x2="33.50" y2="358.70" stroke="#171212" stroke-width="0.9"/>
<text x="27.20" y="361.30" font-size="7.3" text-anchor="end">40</text>
<line x1="31.50" y1="342.40" x2="33.50" y2="342.40" stroke="#171212" stroke-width="0.9"/>
<line x1="29.70" y1="326.10" x2="33.50" y2="326.10" stroke="#171212" stroke-width="0.9"/>
<text x="27.20" y="328.70" font-size="7.3" text-anchor="end">80</text>
<line x1="31.50" y1="309.80" x2="33.50" y2="309.80" stroke="#171212" stroke-width="0.9"/>
<line x1="29.70" y1="293.50" x2="33.50" y2="293.50" stroke="#171212" stroke-width="0.9"/>
<text x="27.20" y="296.10" font-size="7.3" text-anchor="end">120</text>
<line x1="131.40" y1="293.50" x2="136.00" y2="293.50" stroke="#171212" stroke-width="0.9"/>
<text x="138.20" y="296.10" font-size="7.3">120</text>
<line x1="131.40" y1="309.80" x2="134.00" y2="309.80" stroke="#171212" stroke-width="0.9"/>
<line x1="131.40" y1="326.10" x2="136.00" y2="326.10" stroke="#171212" stroke-width="0.9"/>
<text x="138.20" y="328.70" font-size="7.3">80</text>
<line x1="131.40" y1="342.40" x2="134.00" y2="342.40" stroke="#171212" stroke-width="0.9"/>
<line x1="131.40" y1="358.70" x2="136.00" y2="358.70" stroke="#171212" stroke-width="0.9"/>
<text x="138.20" y="361.30" font-size="7.3">40</text>
<line x1="131.40" y1="375.00" x2="134.00" y2="375.00" stroke="#171212" stroke-width="0.9"/>
<line x1="131.40" y1="391.30" x2="136.00" y2="391.30" stroke="#171212" stroke-width="0.9"/>
<text x="138.20" y="393.90" font-size="7.3">0</text>
<line x1="49.50" y1="391.30" x2="49.50" y2="394.90" stroke="#171212" stroke-width="0.9"/>
<text x="49.50" y="404.40" font-size="7.6" text-anchor="middle">0.01</text>
<line x1="82.30" y1="391.30" x2="82.30" y2="394.90" stroke="#171212" stroke-width="0.9"/>
<text x="82.30" y="404.40" font-size="7.6" text-anchor="middle">1</text>
<line x1="115.10" y1="391.30" x2="115.10" y2="394.90" stroke="#171212" stroke-width="0.9"/>
<text x="115.10" y="404.40" font-size="7.6" text-anchor="middle">100</text>
<text x="83.70" y="417.30" font-size="7.6" text-anchor="middle">Remdesivir (µM)</text>
<text x="10.10" y="338.00" font-size="7.5" text-anchor="middle" transform="rotate(-90 10.10 338.00)">Relative infection (%)</text>
<text x="156.90" y="340.80" font-size="7.5" text-anchor="middle" transform="rotate(90 156.90 340.80)">Cell viability (%)</text>
<line x1="34.00" y1="350.60" x2="130.90" y2="350.60" stroke="#8c8c8c" stroke-width="0.9" stroke-dasharray="1 3.05"/>
<line x1="28.40" y1="266.60" x2="39.00" y2="266.60" stroke="#171212" stroke-width="0.7"/>
<rect x="32.10" y="265.00" width="3.20" height="3.20" fill="none" stroke="#171212" stroke-width="0.8"/>
<text x="45.20" y="268.70" font-size="7.6">Cell viability</text>
<line x1="28.40" y1="275.40" x2="39.00" y2="275.40" stroke="#a41d14" stroke-width="0.7"/>
<circle cx="33.70" cy="275.40" r="1.8" fill="#a41d14" stroke="none" stroke-width="0.6"/>
<text x="45.20" y="277.80" font-size="7.6">SARS-CoV-2 Wuhan-Hu-1</text>
<text x="47.20" y="287.70" font-size="7.7">EC<tspan font-size="74%" dy="2.4">50</tspan><tspan dy="-2.4">= 0.060  µM</tspan></text>
<path d="M49.50,309.60 L57.35,317.90 L65.20,327.50 L73.05,332.50 L80.90,338.00 L88.75,338.50 L96.60,340.50 L104.45,341.80 L112.30,343.50 L120.15,348.60" fill="none" stroke="#171212" stroke-width="0.9"/>
<rect x="47.70" y="307.80" width="3.60" height="3.60" fill="none" stroke="#171212" stroke-width="0.8"/>
<rect x="55.55" y="316.10" width="3.60" height="3.60" fill="none" stroke="#171212" stroke-width="0.8"/>
<rect x="63.40" y="325.70" width="3.60" height="3.60" fill="none" stroke="#171212" stroke-width="0.8"/>
<rect x="71.25" y="330.70" width="3.60" height="3.60" fill="none" stroke="#171212" stroke-width="0.8"/>
<rect x="79.10" y="336.20" width="3.60" height="3.60" fill="none" stroke="#171212" stroke-width="0.8"/>
<rect x="86.95" y="336.70" width="3.60" height="3.60" fill="none" stroke="#171212" stroke-width="0.8"/>
<rect x="94.80" y="338.70" width="3.60" height="3.60" fill="none" stroke="#171212" stroke-width="0.8"/>
<rect x="102.65" y="340.00" width="3.60" height="3.60" fill="none" stroke="#171212" stroke-width="0.8"/>
<rect x="110.50" y="341.70" width="3.60" height="3.60" fill="none" stroke="#171212" stroke-width="0.8"/>
<rect x="118.35" y="346.80" width="3.60" height="3.60" fill="none" stroke="#171212" stroke-width="0.8"/>
<path d="M49.50,316.60 L50.68,317.34 L51.86,318.37 L53.04,319.78 L54.21,321.68 L55.39,324.20 L56.57,327.47 L57.75,331.58 L58.93,336.57 L60.11,342.35 L61.28,348.70 L62.46,355.30 L63.64,361.75 L64.82,367.70 L66.00,372.90 L67.17,377.23 L68.35,380.71 L69.53,383.40 L70.71,385.45 L71.89,386.96 L73.07,388.08 L74.25,388.88 L75.42,389.46 L76.60,389.88 L77.78,390.18 L78.96,390.39 L80.14,390.54 L81.31,390.64 L82.49,390.72 L83.67,390.77 L84.85,390.81 L86.03,390.84 L87.21,390.85 L88.38,390.87 L89.56,390.88 L90.74,390.88 L91.92,390.89 L93.10,390.89 L94.28,390.89 L95.46,390.90 L96.63,390.90 L97.81,390.90 L98.99,390.90 L100.17,390.90 L101.35,390.90 L102.53,390.90 L103.70,390.90 L104.88,390.90 L106.06,390.90 L107.24,390.90 L108.42,390.90 L109.59,390.90 L110.77,390.90 L111.95,390.90 L113.13,390.90 L114.31,390.90 L115.49,390.90 L116.67,390.90 L117.84,390.90 L119.02,390.90 L120.20,390.90" fill="none" stroke="#a41d14" stroke-width="0.9"/>
<circle cx="49.50" cy="316.20" r="2.05" fill="#a41d14" stroke="none" stroke-width="0.6"/>
<circle cx="57.35" cy="330.50" r="2.05" fill="#a41d14" stroke="none" stroke-width="0.6"/>
<circle cx="65.20" cy="362.60" r="2.05" fill="#a41d14" stroke="none" stroke-width="0.6"/>
<circle cx="73.05" cy="387.00" r="2.05" fill="#a41d14" stroke="none" stroke-width="0.6"/>
<circle cx="80.90" cy="389.00" r="2.05" fill="#a41d14" stroke="none" stroke-width="0.6"/>
<circle cx="88.75" cy="387.80" r="2.05" fill="#a41d14" stroke="none" stroke-width="0.6"/>
<circle cx="96.60" cy="389.50" r="2.05" fill="#a41d14" stroke="none" stroke-width="0.6"/>
<circle cx="104.45" cy="390.30" r="2.05" fill="#a41d14" stroke="none" stroke-width="0.6"/>
<circle cx="112.30" cy="390.00" r="2.05" fill="#a41d14" stroke="none" stroke-width="0.6"/>
<circle cx="120.15" cy="390.30" r="2.05" fill="#a41d14" stroke="none" stroke-width="0.6"/>
<text x="166.80" y="255.10" font-size="14.5" font-weight="bold">f</text>
<line x1="205.20" y1="293.10" x2="205.20" y2="391.90" stroke="#171212" stroke-width="0.9"/>
<line x1="303.70" y1="293.10" x2="303.70" y2="391.90" stroke="#171212" stroke-width="0.9"/>
<line x1="205.20" y1="391.50" x2="303.70" y2="391.50" stroke="#171212" stroke-width="0.9"/>
<line x1="205.20" y1="293.50" x2="303.70" y2="293.50" stroke="#171212" stroke-width="0.9"/>
<line x1="201.40" y1="391.50" x2="205.20" y2="391.50" stroke="#171212" stroke-width="0.9"/>
<text x="199.00" y="394.10" font-size="7.3" text-anchor="end">0</text>
<line x1="203.20" y1="375.17" x2="205.20" y2="375.17" stroke="#171212" stroke-width="0.9"/>
<line x1="201.40" y1="358.83" x2="205.20" y2="358.83" stroke="#171212" stroke-width="0.9"/>
<text x="199.00" y="361.43" font-size="7.3" text-anchor="end">40</text>
<line x1="203.20" y1="342.50" x2="205.20" y2="342.50" stroke="#171212" stroke-width="0.9"/>
<line x1="201.40" y1="326.17" x2="205.20" y2="326.17" stroke="#171212" stroke-width="0.9"/>
<text x="199.00" y="328.77" font-size="7.3" text-anchor="end">80</text>
<line x1="203.20" y1="309.83" x2="205.20" y2="309.83" stroke="#171212" stroke-width="0.9"/>
<line x1="201.40" y1="293.50" x2="205.20" y2="293.50" stroke="#171212" stroke-width="0.9"/>
<text x="199.00" y="296.10" font-size="7.3" text-anchor="end">120</text>
<line x1="303.70" y1="293.50" x2="308.30" y2="293.50" stroke="#171212" stroke-width="0.9"/>
<text x="310.70" y="296.10" font-size="7.3">120</text>
<line x1="303.70" y1="307.50" x2="306.30" y2="307.50" stroke="#171212" stroke-width="0.9"/>
<line x1="303.70" y1="321.50" x2="308.30" y2="321.50" stroke="#171212" stroke-width="0.9"/>
<text x="310.70" y="324.10" font-size="7.3">80</text>
<line x1="303.70" y1="335.50" x2="306.30" y2="335.50" stroke="#171212" stroke-width="0.9"/>
<line x1="303.70" y1="349.50" x2="308.30" y2="349.50" stroke="#171212" stroke-width="0.9"/>
<text x="310.70" y="352.10" font-size="7.3">40</text>
<line x1="303.70" y1="363.50" x2="306.30" y2="363.50" stroke="#171212" stroke-width="0.9"/>
<line x1="303.70" y1="377.50" x2="308.30" y2="377.50" stroke="#171212" stroke-width="0.9"/>
<text x="310.70" y="380.10" font-size="7.3">0</text>
<line x1="303.70" y1="391.50" x2="306.30" y2="391.50" stroke="#171212" stroke-width="0.9"/>
<line x1="222.00" y1="391.50" x2="222.00" y2="395.10" stroke="#171212" stroke-width="0.9"/>
<text x="222.00" y="404.60" font-size="7.6" text-anchor="middle">0.01</text>
<line x1="254.70" y1="391.50" x2="254.70" y2="395.10" stroke="#171212" stroke-width="0.9"/>
<text x="254.70" y="404.60" font-size="7.6" text-anchor="middle">1</text>
<line x1="287.40" y1="391.50" x2="287.40" y2="395.10" stroke="#171212" stroke-width="0.9"/>
<text x="287.40" y="404.60" font-size="7.6" text-anchor="middle">100</text>
<text x="254.60" y="415.70" font-size="7.6" text-anchor="middle">C3 (µM)</text>
<text x="180.20" y="337.20" font-size="7.5" text-anchor="middle" transform="rotate(-90 180.20 337.20)">Relative Infection (%)</text>
<text x="329.00" y="341.40" font-size="7.5" text-anchor="middle" transform="rotate(90 329.00 341.40)">Cell viability (%)</text>
<line x1="208.80" y1="351.00" x2="301.00" y2="351.00" stroke="#8c8c8c" stroke-width="0.9" stroke-dasharray="1 3.05"/>
<line x1="199.00" y1="256.90" x2="209.60" y2="256.90" stroke="#171212" stroke-width="0.7"/>
<rect x="202.80" y="255.40" width="3.00" height="3.00" fill="none" stroke="#171212" stroke-width="0.8"/>
<text x="215.30" y="259.20" font-size="7.6">Cell viability</text>
<line x1="199.00" y1="266.70" x2="209.60" y2="266.70" stroke="#171212" stroke-width="0.7"/>
<circle cx="204.30" cy="266.70" r="1.4" fill="none" stroke="#171212" stroke-width="0.8"/>
<text x="215.30" y="268.90" font-size="7.6">WuHan-Hu-1 EC<tspan font-size="74%" dy="2.4">50</tspan><tspan dy="-2.4">= 6.47 µM</tspan></text>
<line x1="199.00" y1="276.90" x2="209.60" y2="276.90" stroke="#a41d14" stroke-width="0.7"/>
<path d="M204.30,275.17 L205.95,278.17 L202.65,278.17 Z" fill="none" stroke="#a41d14" stroke-width="0.8"/>
<text x="215.30" y="279.30" font-size="7.6">Delta EC<tspan font-size="74%" dy="2.4">50</tspan><tspan dy="-2.4">= 2.32 µM</tspan></text>
<line x1="199.00" y1="287.00" x2="209.60" y2="287.00" stroke="#f9c560" stroke-width="0.7"/>
<path d="M204.30,285.38 L205.93,287.00 L204.30,288.62 L202.68,287.00 Z" fill="none" stroke="#f9c560" stroke-width="0.8"/>
<text x="215.30" y="289.70" font-size="7.6">Omicron EC<tspan font-size="74%" dy="2.4">50</tspan><tspan dy="-2.4">= 0.19 µM</tspan></text>
<path d="M222.00,324.40 L223.17,325.46 L224.34,326.58 L225.51,327.76 L226.68,328.99 L227.85,330.29 L229.02,331.64 L230.19,333.04 L231.36,334.50 L232.53,336.01 L233.70,337.56 L234.87,339.17 L236.04,340.81 L237.21,342.48 L238.38,344.19 L239.55,345.91 L240.72,347.66 L241.89,349.42 L243.06,351.19 L244.23,352.95 L245.40,354.71 L246.57,356.45 L247.74,358.17 L248.91,359.87 L250.08,361.54 L251.25,363.17 L252.42,364.76 L253.59,366.30 L254.76,367.80 L255.93,369.24 L257.10,370.63 L258.27,371.97 L259.44,373.25 L260.61,374.47 L261.78,375.63 L262.95,376.73 L264.12,377.78 L265.29,378.77 L266.46,379.70 L267.63,380.58 L268.80,381.41 L269.97,382.19 L271.14,382.92 L272.31,383.60 L273.48,384.23 L274.65,384.83 L275.82,385.38 L276.99,385.90 L278.16,386.37 L279.33,386.82 L280.50,387.23 L281.67,387.62 L282.84,387.97 L284.01,388.30 L285.18,388.60 L286.35,388.88 L287.52,389.14 L288.69,389.39 L289.86,389.61 L291.03,389.81 L292.20,390.00" fill="none" stroke="#f9c560" stroke-width="0.9"/>
<path d="M222.00,317.00 L223.17,317.44 L224.34,317.91 L225.51,318.41 L226.68,318.94 L227.85,319.51 L229.02,320.10 L230.19,320.73 L231.36,321.40 L232.53,322.10 L233.70,322.84 L234.87,323.63 L236.04,324.45 L237.21,325.31 L238.38,326.21 L239.55,327.16 L240.72,328.14 L241.89,329.17 L243.06,330.24 L244.23,331.35 L245.40,332.50 L246.57,333.69 L247.74,334.92 L248.91,336.18 L250.08,337.48 L251.25,338.81 L252.42,340.16 L253.59,341.55 L254.76,342.95 L255.93,344.38 L257.10,345.82 L258.27,347.28 L259.44,348.74 L260.61,350.20 L261.78,351.67 L262.95,353.13 L264.12,354.59 L265.29,356.03 L266.46,357.46 L267.63,358.87 L268.80,360.25 L269.97,361.61 L271.14,362.94 L272.31,364.24 L273.48,365.51 L274.65,366.74 L275.82,367.94 L276.99,369.09 L278.16,370.21 L279.33,371.28 L280.50,372.32 L281.67,373.31 L282.84,374.26 L284.01,375.16 L285.18,376.03 L286.35,376.86 L287.52,377.64 L288.69,378.39 L289.86,379.09 L291.03,379.77 L292.20,380.40" fill="none" stroke="#a41d14" stroke-width="0.9"/>
<path d="M222.00,312.00 L223.17,312.24 L224.34,312.50 L225.51,312.78 L226.68,313.09 L227.85,313.42 L229.02,313.77 L230.19,314.15 L231.36,314.57 L232.53,315.01 L233.70,315.49 L234.87,316.01 L236.04,316.56 L237.21,317.16 L238.38,317.80 L239.55,318.48 L240.72,319.21 L241.89,319.99 L243.06,320.82 L244.23,321.70 L245.40,322.64 L246.57,323.63 L247.74,324.68 L248.91,325.79 L250.08,326.96 L251.25,328.19 L252.42,329.47 L253.59,330.82 L254.76,332.22 L255.93,333.67 L257.10,335.18 L258.27,336.74 L259.44,338.34 L260.61,339.99 L261.78,341.67 L262.95,343.38 L264.12,345.13 L265.29,346.89 L266.46,348.67 L267.63,350.45 L268.80,352.24 L269.97,354.02 L271.14,355.80 L272.31,357.55 L273.48,359.28 L274.65,360.98 L275.82,362.65 L276.99,364.28 L278.16,365.86 L279.33,367.40 L280.50,368.88 L281.67,370.31 L282.84,371.69 L284.01,373.01 L285.18,374.27 L286.35,375.47 L287.52,376.61 L288.69,377.69 L289.86,378.72 L291.03,379.69 L292.20,380.60" fill="none" stroke="#171212" stroke-width="0.9"/>
<path d="M222.00,311.30 L223.18,311.32 L224.35,311.33 L225.53,311.35 L226.71,311.37 L227.88,311.39 L229.06,311.41 L230.24,311.43 L231.41,311.46 L232.59,311.49 L233.77,311.52 L234.94,311.55 L236.12,311.58 L237.30,311.62 L238.47,311.66 L239.65,311.70 L240.83,311.75 L242.00,311.79 L243.18,311.85 L244.36,311.90 L245.53,311.96 L246.71,312.03 L247.89,312.10 L249.06,312.17 L250.24,312.25 L251.42,312.34 L252.59,312.43 L253.77,312.53 L254.95,312.63 L256.12,312.74 L257.30,312.86 L258.48,312.99 L259.65,313.13 L260.83,313.28 L262.01,313.43 L263.18,313.60 L264.36,313.77 L265.54,313.96 L266.71,314.16 L267.89,314.38 L269.07,314.60 L270.24,314.84 L271.42,315.09 L272.60,315.36 L273.77,315.65 L274.95,315.94 L276.13,316.26 L277.30,316.59 L278.48,316.94 L279.66,317.30 L280.83,317.68 L282.01,318.08 L283.19,318.50 L284.36,318.93 L285.54,319.38 L286.72,319.84 L287.89,320.33 L289.07,320.82 L290.25,321.34 L291.42,321.86 L292.60,322.40" fill="none" stroke="#171212" stroke-width="0.9"/>
<path d="M222.00,305.71 L224.19,307.90 L222.00,310.09 L219.81,307.90 Z" fill="none" stroke="#f9c560" stroke-width="0.8"/>
<path d="M229.80,336.31 L231.99,338.50 L229.80,340.69 L227.61,338.50 Z" fill="none" stroke="#f9c560" stroke-width="0.8"/>
<path d="M237.60,348.41 L239.79,350.60 L237.60,352.79 L235.41,350.60 Z" fill="none" stroke="#f9c560" stroke-width="0.8"/>
<path d="M245.40,355.21 L247.59,357.40 L245.40,359.59 L243.21,357.40 Z" fill="none" stroke="#f9c560" stroke-width="0.8"/>
<path d="M253.20,366.01 L255.39,368.20 L253.20,370.39 L251.01,368.20 Z" fill="none" stroke="#f9c560" stroke-width="0.8"/>
<path d="M261.00,367.21 L263.19,369.40 L261.00,371.59 L258.81,369.40 Z" fill="none" stroke="#f9c560" stroke-width="0.8"/>
<path d="M268.80,378.51 L270.99,380.70 L268.80,382.89 L266.61,380.70 Z" fill="none" stroke="#f9c560" stroke-width="0.8"/>
<path d="M276.60,377.31 L278.79,379.50 L276.60,381.69 L274.41,379.50 Z" fill="none" stroke="#f9c560" stroke-width="0.8"/>
<path d="M284.40,382.81 L286.59,385.00 L284.40,387.19 L282.21,385.00 Z" fill="none" stroke="#f9c560" stroke-width="0.8"/>
<path d="M292.20,387.31 L294.39,389.50 L292.20,391.69 L290.01,389.50 Z" fill="none" stroke="#f9c560" stroke-width="0.8"/>
<path d="M222.00,314.51 L224.09,318.31 L219.91,318.31 Z" fill="none" stroke="#a41d14" stroke-width="0.8"/>
<path d="M229.80,318.81 L231.89,322.62 L227.71,322.62 Z" fill="none" stroke="#a41d14" stroke-width="0.8"/>
<path d="M237.60,324.01 L239.69,327.81 L235.51,327.81 Z" fill="none" stroke="#a41d14" stroke-width="0.8"/>
<path d="M245.40,330.31 L247.49,334.12 L243.31,334.12 Z" fill="none" stroke="#a41d14" stroke-width="0.8"/>
<path d="M253.20,342.81 L255.29,346.62 L251.11,346.62 Z" fill="none" stroke="#a41d14" stroke-width="0.8"/>
<path d="M261.00,353.42 L263.09,357.22 L258.91,357.22 Z" fill="none" stroke="#a41d14" stroke-width="0.8"/>
<path d="M268.80,362.81 L270.89,366.62 L266.71,366.62 Z" fill="none" stroke="#a41d14" stroke-width="0.8"/>
<path d="M276.60,366.01 L278.69,369.81 L274.51,369.81 Z" fill="none" stroke="#a41d14" stroke-width="0.8"/>
<path d="M284.40,371.51 L286.49,375.31 L282.31,375.31 Z" fill="none" stroke="#a41d14" stroke-width="0.8"/>
<path d="M292.20,371.01 L294.29,374.81 L290.11,374.81 Z" fill="none" stroke="#a41d14" stroke-width="0.8"/>
<circle cx="222.00" cy="307.40" r="2.0" fill="none" stroke="#171212" stroke-width="0.8"/>
<circle cx="229.80" cy="314.60" r="2.0" fill="none" stroke="#171212" stroke-width="0.8"/>
<circle cx="237.60" cy="315.00" r="2.0" fill="none" stroke="#171212" stroke-width="0.8"/>
<circle cx="245.40" cy="323.40" r="2.0" fill="none" stroke="#171212" stroke-width="0.8"/>
<circle cx="253.20" cy="335.50" r="2.0" fill="none" stroke="#171212" stroke-width="0.8"/>
<circle cx="261.00" cy="340.00" r="2.0" fill="none" stroke="#171212" stroke-width="0.8"/>
<circle cx="268.80" cy="351.00" r="2.0" fill="none" stroke="#171212" stroke-width="0.8"/>
<circle cx="276.60" cy="368.70" r="2.0" fill="none" stroke="#171212" stroke-width="0.8"/>
<circle cx="284.40" cy="370.00" r="2.0" fill="none" stroke="#171212" stroke-width="0.8"/>
<circle cx="292.20" cy="380.70" r="2.0" fill="none" stroke="#171212" stroke-width="0.8"/>
<rect x="220.10" y="307.70" width="3.80" height="3.80" fill="none" stroke="#171212" stroke-width="0.8"/>
<rect x="227.90" y="308.50" width="3.80" height="3.80" fill="none" stroke="#171212" stroke-width="0.8"/>
<rect x="235.70" y="309.10" width="3.80" height="3.80" fill="none" stroke="#171212" stroke-width="0.8"/>
<rect x="243.50" y="310.10" width="3.80" height="3.80" fill="none" stroke="#171212" stroke-width="0.8"/>
<rect x="251.30" y="312.10" width="3.80" height="3.80" fill="none" stroke="#171212" stroke-width="0.8"/>
<rect x="259.10" y="314.80" width="3.80" height="3.80" fill="none" stroke="#171212" stroke-width="0.8"/>
<rect x="266.90" y="314.30" width="3.80" height="3.80" fill="none" stroke="#171212" stroke-width="0.8"/>
<rect x="274.70" y="313.10" width="3.80" height="3.80" fill="none" stroke="#171212" stroke-width="0.8"/>
<rect x="282.50" y="313.50" width="3.80" height="3.80" fill="none" stroke="#171212" stroke-width="0.8"/>
<rect x="290.30" y="322.80" width="3.80" height="3.80" fill="none" stroke="#171212" stroke-width="0.8"/>
<text x="342.20" y="255.40" font-size="14.5" font-weight="bold">g</text>
<line x1="381.50" y1="292.40" x2="381.50" y2="391.70" stroke="#171212" stroke-width="0.9"/>
<line x1="480.20" y1="292.40" x2="480.20" y2="391.70" stroke="#171212" stroke-width="0.9"/>
<line x1="381.50" y1="391.30" x2="480.20" y2="391.30" stroke="#171212" stroke-width="0.9"/>
<line x1="381.50" y1="292.80" x2="480.20" y2="292.80" stroke="#171212" stroke-width="0.9"/>
<line x1="377.70" y1="391.30" x2="381.50" y2="391.30" stroke="#171212" stroke-width="0.9"/>
<text x="375.20" y="393.90" font-size="7.3" text-anchor="end">0</text>
<line x1="379.50" y1="374.88" x2="381.50" y2="374.88" stroke="#171212" stroke-width="0.9"/>
<line x1="377.70" y1="358.47" x2="381.50" y2="358.47" stroke="#171212" stroke-width="0.9"/>
<text x="375.20" y="361.07" font-size="7.3" text-anchor="end">40</text>
<line x1="379.50" y1="342.05" x2="381.50" y2="342.05" stroke="#171212" stroke-width="0.9"/>
<line x1="377.70" y1="325.63" x2="381.50" y2="325.63" stroke="#171212" stroke-width="0.9"/>
<text x="375.20" y="328.23" font-size="7.3" text-anchor="end">80</text>
<line x1="379.50" y1="309.22" x2="381.50" y2="309.22" stroke="#171212" stroke-width="0.9"/>
<line x1="377.70" y1="292.80" x2="381.50" y2="292.80" stroke="#171212" stroke-width="0.9"/>
<text x="375.20" y="295.40" font-size="7.3" text-anchor="end">120</text>
<line x1="480.20" y1="292.80" x2="484.80" y2="292.80" stroke="#171212" stroke-width="0.9"/>
<text x="487.00" y="295.40" font-size="7.3">120</text>
<line x1="480.20" y1="309.22" x2="482.80" y2="309.22" stroke="#171212" stroke-width="0.9"/>
<line x1="480.20" y1="325.63" x2="484.80" y2="325.63" stroke="#171212" stroke-width="0.9"/>
<text x="487.00" y="328.23" font-size="7.3">80</text>
<line x1="480.20" y1="342.05" x2="482.80" y2="342.05" stroke="#171212" stroke-width="0.9"/>
<line x1="480.20" y1="358.47" x2="484.80" y2="358.47" stroke="#171212" stroke-width="0.9"/>
<text x="487.00" y="361.07" font-size="7.3">40</text>
<line x1="480.20" y1="374.88" x2="482.80" y2="374.88" stroke="#171212" stroke-width="0.9"/>
<line x1="480.20" y1="391.30" x2="484.80" y2="391.30" stroke="#171212" stroke-width="0.9"/>
<text x="487.00" y="393.90" font-size="7.3">0</text>
<line x1="397.80" y1="391.30" x2="397.80" y2="394.90" stroke="#171212" stroke-width="0.9"/>
<text x="397.80" y="404.40" font-size="7.6" text-anchor="middle">0.01</text>
<line x1="430.70" y1="391.30" x2="430.70" y2="394.90" stroke="#171212" stroke-width="0.9"/>
<text x="430.70" y="404.40" font-size="7.6" text-anchor="middle">1</text>
<line x1="463.60" y1="391.30" x2="463.60" y2="394.90" stroke="#171212" stroke-width="0.9"/>
<text x="463.60" y="404.40" font-size="7.6" text-anchor="middle">100</text>
<text x="433.60" y="415.50" font-size="7.6" text-anchor="middle">C7 (µM)</text>
<text x="357.20" y="337.20" font-size="7.5" text-anchor="middle" transform="rotate(-90 357.20 337.20)">Relative Infection (%)</text>
<text x="503.30" y="340.80" font-size="7.5" text-anchor="middle" transform="rotate(90 503.30 340.80)">Cell viability (%)</text>
<line x1="384.00" y1="350.60" x2="477.00" y2="350.60" stroke="#8c8c8c" stroke-width="0.9" stroke-dasharray="1 3.05"/>
<line x1="372.90" y1="255.80" x2="383.50" y2="255.80" stroke="#171212" stroke-width="0.7"/>
<rect x="376.80" y="254.40" width="2.80" height="2.80" fill="none" stroke="#171212" stroke-width="0.8"/>
<text x="389.80" y="258.10" font-size="7.6">Cell viability</text>
<line x1="372.90" y1="265.00" x2="383.50" y2="265.00" stroke="#171212" stroke-width="0.7"/>
<circle cx="378.20" cy="265.00" r="1.4" fill="none" stroke="#171212" stroke-width="0.8"/>
<text x="389.80" y="267.70" font-size="7.6">WuHan-Hu-1 EC<tspan font-size="74%" dy="2.4">50</tspan><tspan dy="-2.4">= 0.37 µM</tspan></text>
<line x1="372.90" y1="274.30" x2="383.50" y2="274.30" stroke="#a41d14" stroke-width="0.7"/>
<path d="M378.20,272.57 L379.85,275.57 L376.55,275.57 Z" fill="none" stroke="#a41d14" stroke-width="0.8"/>
<text x="389.80" y="277.70" font-size="7.6">Delta  EC<tspan font-size="74%" dy="2.4">50</tspan><tspan dy="-2.4">= 1.83 µM</tspan></text>
<line x1="372.90" y1="283.20" x2="383.50" y2="283.20" stroke="#f9c560" stroke-width="0.7"/>
<path d="M378.20,284.81 L379.74,282.01 L376.66,282.01 Z" fill="none" stroke="#f9c560" stroke-width="0.8"/>
<text x="389.80" y="287.40" font-size="7.6">Omicron  EC<tspan font-size="74%" dy="2.4">50</tspan><tspan dy="-2.4">= 0.34 µM</tspan></text>
<path d="M397.80,315.60 L398.98,316.21 L400.15,316.90 L401.33,317.66 L402.51,318.51 L403.68,319.45 L404.86,320.49 L406.04,321.63 L407.21,322.89 L408.39,324.27 L409.57,325.77 L410.74,327.39 L411.92,329.14 L413.10,331.02 L414.27,333.02 L415.45,335.13 L416.63,337.36 L417.80,339.68 L418.98,342.09 L420.16,344.56 L421.33,347.08 L422.51,349.63 L423.69,352.19 L424.86,354.74 L426.04,357.26 L427.22,359.72 L428.39,362.11 L429.57,364.42 L430.75,366.62 L431.92,368.72 L433.10,370.69 L434.28,372.55 L435.45,374.28 L436.63,375.88 L437.81,377.35 L438.98,378.71 L440.16,379.95 L441.34,381.07 L442.51,382.10 L443.69,383.02 L444.87,383.85 L446.04,384.60 L447.22,385.27 L448.40,385.87 L449.57,386.41 L450.75,386.88 L451.93,387.31 L453.10,387.69 L454.28,388.02 L455.46,388.32 L456.63,388.58 L457.81,388.81 L458.99,389.02 L460.16,389.20 L461.34,389.36 L462.52,389.51 L463.69,389.63 L464.87,389.74 L466.05,389.84 L467.22,389.92 L468.40,390.00" fill="none" stroke="#f9c560" stroke-width="0.9"/>
<path d="M397.80,315.00 L398.98,315.27 L400.15,315.58 L401.33,315.91 L402.51,316.28 L403.68,316.68 L404.86,317.12 L406.04,317.61 L407.21,318.14 L408.39,318.72 L409.57,319.35 L410.74,320.04 L411.92,320.79 L413.10,321.61 L414.27,322.49 L415.45,323.44 L416.63,324.47 L417.80,325.57 L418.98,326.75 L420.16,328.01 L421.33,329.35 L422.51,330.76 L423.69,332.26 L424.86,333.83 L426.04,335.47 L427.22,337.18 L428.39,338.96 L429.57,340.78 L430.75,342.66 L431.92,344.57 L433.10,346.51 L434.28,348.46 L435.45,350.43 L436.63,352.39 L437.81,354.33 L438.98,356.25 L440.16,358.14 L441.34,359.98 L442.51,361.76 L443.69,363.49 L444.87,365.15 L446.04,366.74 L447.22,368.26 L448.40,369.70 L449.57,371.05 L450.75,372.33 L451.93,373.53 L453.10,374.66 L454.28,375.70 L455.46,376.67 L456.63,377.57 L457.81,378.40 L458.99,379.17 L460.16,379.88 L461.34,380.53 L462.52,381.12 L463.69,381.66 L464.87,382.16 L466.05,382.61 L467.22,383.02 L468.40,383.40" fill="none" stroke="#a41d14" stroke-width="0.9"/>
<path d="M397.80,324.40 L398.98,325.15 L400.15,325.95 L401.33,326.80 L402.51,327.69 L403.68,328.62 L404.86,329.61 L406.04,330.64 L407.21,331.72 L408.39,332.85 L409.57,334.03 L410.74,335.25 L411.92,336.51 L413.10,337.81 L414.27,339.15 L415.45,340.53 L416.63,341.94 L417.80,343.37 L418.98,344.83 L420.16,346.31 L421.33,347.80 L422.51,349.31 L423.69,350.82 L424.86,352.33 L426.04,353.83 L427.22,355.32 L428.39,356.80 L429.57,358.25 L430.75,359.69 L431.92,361.09 L433.10,362.46 L434.28,363.80 L435.45,365.09 L436.63,366.35 L437.81,367.56 L438.98,368.73 L440.16,369.85 L441.34,370.92 L442.51,371.95 L443.69,372.93 L444.87,373.86 L446.04,374.74 L447.22,375.58 L448.40,376.37 L449.57,377.12 L450.75,377.82 L451.93,378.48 L453.10,379.10 L454.28,379.69 L455.46,380.24 L456.63,380.75 L457.81,381.23 L458.99,381.67 L460.16,382.09 L461.34,382.48 L462.52,382.84 L463.69,383.18 L464.87,383.49 L466.05,383.78 L467.22,384.05 L468.40,384.30" fill="none" stroke="#171212" stroke-width="0.9"/>
<path d="M397.80,309.50 L398.98,309.50 L400.15,309.50 L401.33,309.50 L402.51,309.50 L403.68,309.50 L404.86,309.50 L406.04,309.50 L407.21,309.50 L408.39,309.50 L409.57,309.50 L410.74,309.50 L411.92,309.50 L413.10,309.50 L414.27,309.50 L415.45,309.50 L416.63,309.50 L417.80,309.50 L418.98,309.50 L420.16,309.50 L421.33,309.50 L422.51,309.50 L423.69,309.50 L424.86,309.50 L426.04,309.50 L427.22,309.50 L428.39,309.50 L429.57,309.50 L430.75,309.50 L431.92,309.50 L433.10,309.50 L434.28,309.50 L435.45,309.50 L436.63,309.50 L437.81,309.50 L438.98,309.50 L440.16,309.50 L441.34,309.50 L442.51,309.50 L443.69,309.50 L444.87,309.50 L446.04,309.50 L447.22,309.50 L448.40,309.50 L449.57,309.51 L450.75,309.51 L451.93,309.51 L453.10,309.52 L454.28,309.53 L455.46,309.55 L456.63,309.58 L457.81,309.62 L458.99,309.68 L460.16,309.78 L461.34,309.93 L462.52,310.15 L463.69,310.49 L464.87,311.00 L466.05,311.76 L467.22,312.85 L468.40,314.40" fill="none" stroke="#171212" stroke-width="0.9"/>
<path d="M397.80,308.15 L399.29,305.45 L396.31,305.45 Z" fill="none" stroke="#f9c560" stroke-width="0.8"/>
<path d="M405.65,316.45 L407.14,313.75 L404.17,313.75 Z" fill="none" stroke="#f9c560" stroke-width="0.8"/>
<path d="M413.50,337.05 L414.99,334.35 L412.01,334.35 Z" fill="none" stroke="#f9c560" stroke-width="0.8"/>
<path d="M421.35,354.65 L422.84,351.95 L419.87,351.95 Z" fill="none" stroke="#f9c560" stroke-width="0.8"/>
<path d="M429.20,367.25 L430.69,364.55 L427.71,364.55 Z" fill="none" stroke="#f9c560" stroke-width="0.8"/>
<path d="M437.05,370.95 L438.54,368.25 L435.56,368.25 Z" fill="none" stroke="#f9c560" stroke-width="0.8"/>
<path d="M444.90,379.75 L446.38,377.05 L443.41,377.05 Z" fill="none" stroke="#f9c560" stroke-width="0.8"/>
<path d="M452.75,381.55 L454.24,378.85 L451.26,378.85 Z" fill="none" stroke="#f9c560" stroke-width="0.8"/>
<path d="M460.60,389.35 L462.09,386.65 L459.12,386.65 Z" fill="none" stroke="#f9c560" stroke-width="0.8"/>
<path d="M468.45,388.55 L469.94,385.85 L466.96,385.85 Z" fill="none" stroke="#f9c560" stroke-width="0.8"/>
<path d="M397.80,308.29 L399.34,311.09 L396.26,311.09 Z" fill="none" stroke="#a41d14" stroke-width="0.8"/>
<path d="M405.65,306.99 L407.19,309.79 L404.11,309.79 Z" fill="none" stroke="#a41d14" stroke-width="0.8"/>
<path d="M413.50,320.59 L415.04,323.39 L411.96,323.39 Z" fill="none" stroke="#a41d14" stroke-width="0.8"/>
<path d="M421.35,326.89 L422.89,329.69 L419.81,329.69 Z" fill="none" stroke="#a41d14" stroke-width="0.8"/>
<path d="M429.20,350.69 L430.74,353.49 L427.66,353.49 Z" fill="none" stroke="#a41d14" stroke-width="0.8"/>
<path d="M437.05,359.49 L438.59,362.29 L435.51,362.29 Z" fill="none" stroke="#a41d14" stroke-width="0.8"/>
<path d="M444.90,365.29 L446.44,368.09 L443.36,368.09 Z" fill="none" stroke="#a41d14" stroke-width="0.8"/>
<path d="M452.75,367.29 L454.29,370.09 L451.21,370.09 Z" fill="none" stroke="#a41d14" stroke-width="0.8"/>
<path d="M460.60,370.29 L462.14,373.09 L459.06,373.09 Z" fill="none" stroke="#a41d14" stroke-width="0.8"/>
<path d="M468.45,374.59 L469.99,377.39 L466.91,377.39 Z" fill="none" stroke="#a41d14" stroke-width="0.8"/>
<circle cx="397.80" cy="324.20" r="1.5" fill="none" stroke="#171212" stroke-width="0.8"/>
<circle cx="405.65" cy="335.00" r="1.5" fill="none" stroke="#171212" stroke-width="0.8"/>
<circle cx="413.50" cy="336.00" r="1.5" fill="none" stroke="#171212" stroke-width="0.8"/>
<circle cx="421.35" cy="345.60" r="1.5" fill="none" stroke="#171212" stroke-width="0.8"/>
<circle cx="429.20" cy="356.10" r="1.5" fill="none" stroke="#171212" stroke-width="0.8"/>
<circle cx="437.05" cy="366.20" r="1.5" fill="none" stroke="#171212" stroke-width="0.8"/>
<circle cx="444.90" cy="377.70" r="1.5" fill="none" stroke="#171212" stroke-width="0.8"/>
<circle cx="452.75" cy="379.00" r="1.5" fill="none" stroke="#171212" stroke-width="0.8"/>
<circle cx="460.60" cy="377.00" r="1.5" fill="none" stroke="#171212" stroke-width="0.8"/>
<circle cx="468.45" cy="384.00" r="1.5" fill="none" stroke="#171212" stroke-width="0.8"/>
<rect x="396.35" y="307.65" width="2.90" height="2.90" fill="none" stroke="#171212" stroke-width="0.8"/>
<rect x="404.20" y="306.95" width="2.90" height="2.90" fill="none" stroke="#171212" stroke-width="0.8"/>
<rect x="412.05" y="303.95" width="2.90" height="2.90" fill="none" stroke="#171212" stroke-width="0.8"/>
<rect x="419.90" y="300.15" width="2.90" height="2.90" fill="none" stroke="#171212" stroke-width="0.8"/>
<rect x="427.75" y="301.35" width="2.90" height="2.90" fill="none" stroke="#171212" stroke-width="0.8"/>
<rect x="435.60" y="305.95" width="2.90" height="2.90" fill="none" stroke="#171212" stroke-width="0.8"/>
<rect x="443.45" y="306.45" width="2.90" height="2.90" fill="none" stroke="#171212" stroke-width="0.8"/>
<rect x="451.30" y="309.65" width="2.90" height="2.90" fill="none" stroke="#171212" stroke-width="0.8"/>
<rect x="459.15" y="308.45" width="2.90" height="2.90" fill="none" stroke="#171212" stroke-width="0.8"/>
<rect x="467.00" y="313.15" width="2.90" height="2.90" fill="none" stroke="#171212" stroke-width="0.8"/>
<text x="522.60" y="255.10" font-size="14.5" font-weight="bold">h</text>
<line x1="555.20" y1="290.40" x2="555.20" y2="391.20" stroke="#171212" stroke-width="0.9"/>
<line x1="654.50" y1="290.40" x2="654.50" y2="391.20" stroke="#171212" stroke-width="0.9"/>
<line x1="555.20" y1="390.80" x2="654.50" y2="390.80" stroke="#171212" stroke-width="0.9"/>
<line x1="555.20" y1="290.80" x2="654.50" y2="290.80" stroke="#171212" stroke-width="0.9"/>
<line x1="551.40" y1="390.80" x2="555.20" y2="390.80" stroke="#171212" stroke-width="0.9"/>
<text x="548.70" y="393.40" font-size="7.3" text-anchor="end">0</text>
<line x1="553.20" y1="374.13" x2="555.20" y2="374.13" stroke="#171212" stroke-width="0.9"/>
<line x1="551.40" y1="357.47" x2="555.20" y2="357.47" stroke="#171212" stroke-width="0.9"/>
<text x="548.70" y="360.07" font-size="7.3" text-anchor="end">40</text>
<line x1="553.20" y1="340.80" x2="555.20" y2="340.80" stroke="#171212" stroke-width="0.9"/>
<line x1="551.40" y1="324.13" x2="555.20" y2="324.13" stroke="#171212" stroke-width="0.9"/>
<text x="548.70" y="326.73" font-size="7.3" text-anchor="end">80</text>
<line x1="553.20" y1="307.47" x2="555.20" y2="307.47" stroke="#171212" stroke-width="0.9"/>
<line x1="551.40" y1="290.80" x2="555.20" y2="290.80" stroke="#171212" stroke-width="0.9"/>
<text x="548.70" y="293.40" font-size="7.3" text-anchor="end">120</text>
<line x1="654.50" y1="290.80" x2="659.10" y2="290.80" stroke="#171212" stroke-width="0.9"/>
<text x="661.20" y="293.40" font-size="7.3">120</text>
<line x1="654.50" y1="307.47" x2="657.10" y2="307.47" stroke="#171212" stroke-width="0.9"/>
<line x1="654.50" y1="324.13" x2="659.10" y2="324.13" stroke="#171212" stroke-width="0.9"/>
<text x="661.20" y="326.73" font-size="7.3">80</text>
<line x1="654.50" y1="340.80" x2="657.10" y2="340.80" stroke="#171212" stroke-width="0.9"/>
<line x1="654.50" y1="357.47" x2="659.10" y2="357.47" stroke="#171212" stroke-width="0.9"/>
<text x="661.20" y="360.07" font-size="7.3">40</text>
<line x1="654.50" y1="374.13" x2="657.10" y2="374.13" stroke="#171212" stroke-width="0.9"/>
<line x1="654.50" y1="390.80" x2="659.10" y2="390.80" stroke="#171212" stroke-width="0.9"/>
<text x="661.20" y="393.40" font-size="7.3">0</text>
<line x1="572.00" y1="390.80" x2="572.00" y2="394.40" stroke="#171212" stroke-width="0.9"/>
<text x="572.00" y="403.90" font-size="7.6" text-anchor="middle">0.01</text>
<line x1="605.00" y1="390.80" x2="605.00" y2="394.40" stroke="#171212" stroke-width="0.9"/>
<text x="605.00" y="403.90" font-size="7.6" text-anchor="middle">1</text>
<line x1="638.00" y1="390.80" x2="638.00" y2="394.40" stroke="#171212" stroke-width="0.9"/>
<text x="638.00" y="403.90" font-size="7.6" text-anchor="middle">100</text>
<text x="605.80" y="416.60" font-size="7.6" text-anchor="middle">C10 (µM)</text>
<text x="531.20" y="342.20" font-size="7.5" text-anchor="middle" transform="rotate(-90 531.20 342.20)">Relative Infection (%)</text>
<text x="679.20" y="342.00" font-size="7.5" text-anchor="middle" transform="rotate(90 679.20 342.00)">Cell viability (%)</text>
<line x1="558.20" y1="349.30" x2="651.20" y2="349.30" stroke="#8c8c8c" stroke-width="0.9" stroke-dasharray="1 3.05"/>
<line x1="549.20" y1="252.80" x2="559.80" y2="252.80" stroke="#171212" stroke-width="0.7"/>
<rect x="553.10" y="251.40" width="2.80" height="2.80" fill="none" stroke="#171212" stroke-width="0.8"/>
<text x="565.80" y="255.10" font-size="7.6">Cell viability</text>
<line x1="549.20" y1="262.20" x2="559.80" y2="262.20" stroke="#171212" stroke-width="0.7"/>
<circle cx="554.50" cy="262.20" r="1.3" fill="none" stroke="#171212" stroke-width="0.8"/>
<text x="565.80" y="264.60" font-size="7.6">WuHan-Hu-1 EC<tspan font-size="74%" dy="2.4">50</tspan><tspan dy="-2.4">= 0.31 µM</tspan></text>
<line x1="549.20" y1="272.70" x2="559.80" y2="272.70" stroke="#a41d14" stroke-width="0.7"/>
<path d="M554.50,270.97 L556.15,273.97 L552.85,273.97 Z" fill="none" stroke="#a41d14" stroke-width="0.8"/>
<text x="565.80" y="275.40" font-size="7.6">Delta EC<tspan font-size="74%" dy="2.4">50</tspan><tspan dy="-2.4">= 0.50 µM</tspan></text>
<line x1="549.20" y1="281.60" x2="559.80" y2="281.60" stroke="#f9c560" stroke-width="0.7"/>
<path d="M554.50,279.98 L556.12,281.60 L554.50,283.23 L552.88,281.60 Z" fill="none" stroke="#f9c560" stroke-width="0.8"/>
<text x="565.80" y="285.40" font-size="7.6">Omicron  EC<tspan font-size="74%" dy="2.4">50</tspan><tspan dy="-2.4">= 0.06 µM</tspan></text>
<path d="M572.00,330.50 L573.18,332.02 L574.37,333.62 L575.55,335.27 L576.74,337.00 L577.92,338.77 L579.11,340.60 L580.29,342.47 L581.48,344.38 L582.66,346.31 L583.85,348.26 L585.03,350.22 L586.22,352.18 L587.40,354.12 L588.59,356.05 L589.77,357.95 L590.96,359.80 L592.14,361.62 L593.33,363.38 L594.51,365.08 L595.70,366.71 L596.88,368.28 L598.07,369.78 L599.25,371.21 L600.44,372.56 L601.62,373.84 L602.81,375.04 L604.00,376.17 L605.18,377.23 L606.37,378.21 L607.55,379.13 L608.74,379.99 L609.92,380.78 L611.11,381.51 L612.29,382.19 L613.48,382.81 L614.66,383.39 L615.85,383.92 L617.03,384.40 L618.22,384.84 L619.40,385.25 L620.59,385.63 L621.77,385.97 L622.96,386.28 L624.14,386.56 L625.33,386.82 L626.51,387.06 L627.70,387.27 L628.88,387.47 L630.07,387.65 L631.25,387.81 L632.44,387.96 L633.62,388.09 L634.81,388.21 L635.99,388.32 L637.18,388.42 L638.36,388.51 L639.55,388.60 L640.73,388.67 L641.91,388.74 L643.10,388.80" fill="none" stroke="#f9c560" stroke-width="0.9"/>
<path d="M572.00,316.40 L573.18,316.98 L574.37,317.61 L575.55,318.30 L576.74,319.06 L577.92,319.89 L579.11,320.79 L580.29,321.76 L581.48,322.81 L582.66,323.95 L583.85,325.17 L585.03,326.48 L586.22,327.88 L587.40,329.37 L588.59,330.94 L589.77,332.60 L590.96,334.34 L592.14,336.15 L593.33,338.04 L594.51,339.99 L595.70,341.99 L596.88,344.04 L598.07,346.12 L599.25,348.22 L600.44,350.33 L601.62,352.43 L602.81,354.52 L604.00,356.57 L605.18,358.59 L606.37,360.56 L607.55,362.47 L608.74,364.31 L609.92,366.07 L611.11,367.75 L612.29,369.35 L613.48,370.87 L614.66,372.29 L615.85,373.63 L617.03,374.88 L618.22,376.04 L619.40,377.12 L620.59,378.12 L621.77,379.04 L622.96,379.89 L624.14,380.67 L625.33,381.38 L626.51,382.03 L627.70,382.63 L628.88,383.17 L630.07,383.66 L631.25,384.11 L632.44,384.52 L633.62,384.88 L634.81,385.22 L635.99,385.52 L637.18,385.79 L638.36,386.04 L639.55,386.26 L640.73,386.46 L641.91,386.64 L643.10,386.80" fill="none" stroke="#a41d14" stroke-width="0.9"/>
<path d="M572.00,325.30 L573.18,326.11 L574.37,326.95 L575.55,327.84 L576.74,328.78 L577.92,329.76 L579.11,330.78 L580.29,331.85 L581.48,332.96 L582.66,334.12 L583.85,335.31 L585.03,336.54 L586.22,337.81 L587.40,339.11 L588.59,340.45 L589.77,341.81 L590.96,343.19 L592.14,344.60 L593.33,346.03 L594.51,347.46 L595.70,348.91 L596.88,350.35 L598.07,351.80 L599.25,353.24 L600.44,354.67 L601.62,356.09 L602.81,357.49 L604.00,358.86 L605.18,360.21 L606.37,361.53 L607.55,362.82 L608.74,364.07 L609.92,365.28 L611.11,366.46 L612.29,367.59 L613.48,368.68 L614.66,369.73 L615.85,370.73 L617.03,371.69 L618.22,372.61 L619.40,373.48 L620.59,374.31 L621.77,375.09 L622.96,375.84 L624.14,376.54 L625.33,377.20 L626.51,377.83 L627.70,378.42 L628.88,378.97 L630.07,379.49 L631.25,379.98 L632.44,380.43 L633.62,380.86 L634.81,381.26 L635.99,381.63 L637.18,381.98 L638.36,382.31 L639.55,382.61 L640.73,382.89 L641.91,383.16 L643.10,383.40" fill="none" stroke="#171212" stroke-width="0.9"/>
<path d="M572.00,307.40 L573.18,307.41 L574.37,307.42 L575.55,307.42 L576.74,307.43 L577.92,307.45 L579.11,307.46 L580.29,307.47 L581.48,307.49 L582.66,307.50 L583.85,307.52 L585.03,307.54 L586.22,307.57 L587.40,307.59 L588.59,307.62 L589.77,307.65 L590.96,307.69 L592.14,307.73 L593.33,307.77 L594.51,307.82 L595.70,307.88 L596.88,307.94 L598.07,308.00 L599.25,308.08 L600.44,308.16 L601.62,308.25 L602.81,308.35 L604.00,308.46 L605.18,308.59 L606.37,308.72 L607.55,308.88 L608.74,309.04 L609.92,309.23 L611.11,309.44 L612.29,309.66 L613.48,309.92 L614.66,310.19 L615.85,310.50 L617.03,310.84 L618.22,311.21 L619.40,311.62 L620.59,312.07 L621.77,312.57 L622.96,313.11 L624.14,313.70 L625.33,314.35 L626.51,315.06 L627.70,315.83 L628.88,316.67 L630.07,317.58 L631.25,318.57 L632.44,319.63 L633.62,320.78 L634.81,322.00 L635.99,323.32 L637.18,324.72 L638.36,326.21 L639.55,327.78 L640.73,329.44 L641.91,331.18 L643.10,333.00" fill="none" stroke="#171212" stroke-width="0.9"/>
<path d="M572.00,323.26 L573.44,324.70 L572.00,326.14 L570.56,324.70 Z" fill="none" stroke="#f9c560" stroke-width="0.8"/>
<path d="M579.90,342.86 L581.34,344.30 L579.90,345.74 L578.46,344.30 Z" fill="none" stroke="#f9c560" stroke-width="0.8"/>
<path d="M587.80,351.66 L589.24,353.10 L587.80,354.54 L586.36,353.10 Z" fill="none" stroke="#f9c560" stroke-width="0.8"/>
<path d="M595.70,364.76 L597.14,366.20 L595.70,367.64 L594.26,366.20 Z" fill="none" stroke="#f9c560" stroke-width="0.8"/>
<path d="M603.60,370.56 L605.04,372.00 L603.60,373.44 L602.16,372.00 Z" fill="none" stroke="#f9c560" stroke-width="0.8"/>
<path d="M611.50,373.76 L612.94,375.20 L611.50,376.64 L610.06,375.20 Z" fill="none" stroke="#f9c560" stroke-width="0.8"/>
<path d="M619.40,378.56 L620.84,380.00 L619.40,381.44 L617.96,380.00 Z" fill="none" stroke="#f9c560" stroke-width="0.8"/>
<path d="M627.30,384.36 L628.74,385.80 L627.30,387.24 L625.86,385.80 Z" fill="none" stroke="#f9c560" stroke-width="0.8"/>
<path d="M635.20,386.36 L636.64,387.80 L635.20,389.24 L633.76,387.80 Z" fill="none" stroke="#f9c560" stroke-width="0.8"/>
<path d="M643.10,387.36 L644.54,388.80 L643.10,390.24 L641.66,388.80 Z" fill="none" stroke="#f9c560" stroke-width="0.8"/>
<path d="M572.00,314.45 L573.49,317.15 L570.51,317.15 Z" fill="none" stroke="#a41d14" stroke-width="0.8"/>
<path d="M579.90,313.05 L581.38,315.75 L578.41,315.75 Z" fill="none" stroke="#a41d14" stroke-width="0.8"/>
<path d="M587.80,323.95 L589.28,326.65 L586.31,326.65 Z" fill="none" stroke="#a41d14" stroke-width="0.8"/>
<path d="M595.70,348.25 L597.19,350.95 L594.22,350.95 Z" fill="none" stroke="#a41d14" stroke-width="0.8"/>
<path d="M603.60,357.05 L605.09,359.75 L602.12,359.75 Z" fill="none" stroke="#a41d14" stroke-width="0.8"/>
<path d="M611.50,369.85 L612.99,372.55 L610.01,372.55 Z" fill="none" stroke="#a41d14" stroke-width="0.8"/>
<path d="M619.40,367.15 L620.88,369.85 L617.91,369.85 Z" fill="none" stroke="#a41d14" stroke-width="0.8"/>
<path d="M627.30,373.45 L628.78,376.15 L625.81,376.15 Z" fill="none" stroke="#a41d14" stroke-width="0.8"/>
<path d="M635.20,384.25 L636.69,386.95 L633.72,386.95 Z" fill="none" stroke="#a41d14" stroke-width="0.8"/>
<path d="M643.10,384.25 L644.59,386.95 L641.62,386.95 Z" fill="none" stroke="#a41d14" stroke-width="0.8"/>
<circle cx="572.00" cy="322.20" r="1.5" fill="none" stroke="#171212" stroke-width="0.8"/>
<circle cx="579.90" cy="333.70" r="1.5" fill="none" stroke="#171212" stroke-width="0.8"/>
<circle cx="587.80" cy="338.00" r="1.5" fill="none" stroke="#171212" stroke-width="0.8"/>
<circle cx="595.70" cy="345.60" r="1.5" fill="none" stroke="#171212" stroke-width="0.8"/>
<circle cx="603.60" cy="360.60" r="1.5" fill="none" stroke="#171212" stroke-width="0.8"/>
<circle cx="611.50" cy="368.20" r="1.5" fill="none" stroke="#171212" stroke-width="0.8"/>
<circle cx="619.40" cy="371.90" r="1.5" fill="none" stroke="#171212" stroke-width="0.8"/>
<circle cx="627.30" cy="375.00" r="1.5" fill="none" stroke="#171212" stroke-width="0.8"/>
<circle cx="635.20" cy="377.00" r="1.5" fill="none" stroke="#171212" stroke-width="0.8"/>
<circle cx="643.10" cy="383.20" r="1.5" fill="none" stroke="#171212" stroke-width="0.8"/>
<rect x="570.55" y="306.45" width="2.90" height="2.90" fill="none" stroke="#171212" stroke-width="0.8"/>
<rect x="578.45" y="301.85" width="2.90" height="2.90" fill="none" stroke="#171212" stroke-width="0.8"/>
<rect x="586.35" y="302.65" width="2.90" height="2.90" fill="none" stroke="#171212" stroke-width="0.8"/>
<rect x="594.25" y="305.95" width="2.90" height="2.90" fill="none" stroke="#171212" stroke-width="0.8"/>
<rect x="602.15" y="308.95" width="2.90" height="2.90" fill="none" stroke="#171212" stroke-width="0.8"/>
<rect x="610.05" y="310.65" width="2.90" height="2.90" fill="none" stroke="#171212" stroke-width="0.8"/>
<rect x="617.95" y="308.45" width="2.90" height="2.90" fill="none" stroke="#171212" stroke-width="0.8"/>
<rect x="625.85" y="315.25" width="2.90" height="2.90" fill="none" stroke="#171212" stroke-width="0.8"/>
<rect x="633.75" y="320.25" width="2.90" height="2.90" fill="none" stroke="#171212" stroke-width="0.8"/>
<rect x="641.65" y="331.55" width="2.90" height="2.90" fill="none" stroke="#171212" stroke-width="0.8"/>
<text x="2.20" y="441.30" font-size="14.5" font-weight="bold">i</text>
<text x="20.70" y="494.20" font-size="7.45" text-anchor="middle" transform="rotate(-90 20.70 494.20)">Percent of population</text>
<text x="96.00" y="436.90" font-size="8.5" text-anchor="middle">Passage 1</text>
<rect x="50.95" y="460.48" width="12.10" height="81.42" fill="#c1c1c1" stroke="none" stroke-width="0.9"/>
<rect x="69.60" y="460.48" width="12.10" height="81.42" fill="#c1c1c1" stroke="none" stroke-width="0.9"/>
<rect x="87.90" y="460.48" width="12.10" height="81.42" fill="#c1c1c1" stroke="none" stroke-width="0.9"/>
<rect x="87.90" y="541.30" width="12.10" height="0.60" fill="#d8d2a0" stroke="none" stroke-width="0.9"/>
<rect x="106.25" y="460.48" width="12.10" height="81.42" fill="#c1c1c1" stroke="none" stroke-width="0.9"/>
<rect x="106.25" y="541.30" width="12.10" height="0.60" fill="#b4c4d0" stroke="none" stroke-width="0.9"/>
<rect x="124.90" y="460.48" width="12.10" height="81.42" fill="#c1c1c1" stroke="none" stroke-width="0.9"/>
<rect x="124.90" y="540.90" width="12.10" height="1.00" fill="#3f5fae" stroke="none" stroke-width="0.9"/>
<line x1="44.70" y1="443.80" x2="44.70" y2="542.30" stroke="#171212" stroke-width="0.9"/>
<line x1="44.70" y1="541.90" x2="142.80" y2="541.90" stroke="#4a4a4a" stroke-width="0.9"/>
<line x1="40.90" y1="541.90" x2="44.70" y2="541.90" stroke="#171212" stroke-width="0.9"/>
<text x="38.30" y="544.50" font-size="7.3" text-anchor="end">0</text>
<line x1="42.30" y1="525.62" x2="44.70" y2="525.62" stroke="#171212" stroke-width="0.9"/>
<line x1="40.90" y1="509.33" x2="44.70" y2="509.33" stroke="#171212" stroke-width="0.9"/>
<text x="38.30" y="511.93" font-size="7.3" text-anchor="end">40</text>
<line x1="42.30" y1="493.05" x2="44.70" y2="493.05" stroke="#171212" stroke-width="0.9"/>
<line x1="40.90" y1="476.76" x2="44.70" y2="476.76" stroke="#171212" stroke-width="0.9"/>
<text x="38.30" y="479.36" font-size="7.3" text-anchor="end">80</text>
<line x1="42.30" y1="460.48" x2="44.70" y2="460.48" stroke="#171212" stroke-width="0.9"/>
<line x1="40.90" y1="444.20" x2="44.70" y2="444.20" stroke="#171212" stroke-width="0.9"/>
<text x="38.30" y="446.80" font-size="7.3" text-anchor="end">120</text>
<line x1="57.00" y1="541.90" x2="57.00" y2="546.50" stroke="#171212" stroke-width="0.9"/>
<text x="57.70" y="553.30" font-size="7.8" text-anchor="end" transform="rotate(-45 57.70 553.30)">V290</text>
<line x1="75.65" y1="541.90" x2="75.65" y2="546.50" stroke="#171212" stroke-width="0.9"/>
<text x="76.35" y="553.30" font-size="7.8" text-anchor="end" transform="rotate(-45 76.35 553.30)">P393</text>
<line x1="93.95" y1="541.90" x2="93.95" y2="546.50" stroke="#171212" stroke-width="0.9"/>
<text x="94.65" y="553.30" font-size="7.8" text-anchor="end" transform="rotate(-45 94.65 553.30)">S418</text>
<line x1="112.30" y1="541.90" x2="112.30" y2="546.50" stroke="#171212" stroke-width="0.9"/>
<text x="113.00" y="553.30" font-size="7.8" text-anchor="end" transform="rotate(-45 113.00 553.30)">G456</text>
<line x1="130.95" y1="541.90" x2="130.95" y2="546.50" stroke="#171212" stroke-width="0.9"/>
<text x="131.65" y="553.30" font-size="7.8" text-anchor="end" transform="rotate(-45 131.65 553.30)">T522</text>
<text x="211.60" y="436.90" font-size="8.5" text-anchor="middle">Passage 2</text>
<rect x="166.25" y="460.48" width="12.10" height="81.42" fill="#c1c1c1" stroke="none" stroke-width="0.9"/>
<rect x="184.70" y="460.48" width="12.10" height="81.42" fill="#c1c1c1" stroke="none" stroke-width="0.9"/>
<rect x="203.15" y="460.48" width="12.10" height="81.42" fill="#c1c1c1" stroke="none" stroke-width="0.9"/>
<rect x="203.15" y="541.30" width="12.10" height="0.60" fill="#d8d2a0" stroke="none" stroke-width="0.9"/>
<rect x="221.55" y="460.48" width="12.10" height="81.42" fill="#c1c1c1" stroke="none" stroke-width="0.9"/>
<rect x="221.55" y="541.30" width="12.10" height="0.60" fill="#b4c4d0" stroke="none" stroke-width="0.9"/>
<rect x="239.95" y="460.48" width="12.10" height="81.42" fill="#c1c1c1" stroke="none" stroke-width="0.9"/>
<rect x="239.95" y="540.90" width="12.10" height="1.00" fill="#3f5fae" stroke="none" stroke-width="0.9"/>
<line x1="160.10" y1="443.80" x2="160.10" y2="542.30" stroke="#171212" stroke-width="0.9"/>
<line x1="160.10" y1="541.90" x2="258.20" y2="541.90" stroke="#4a4a4a" stroke-width="0.9"/>
<line x1="156.30" y1="541.90" x2="160.10" y2="541.90" stroke="#171212" stroke-width="0.9"/>
<text x="153.70" y="544.50" font-size="7.3" text-anchor="end">0</text>
<line x1="157.70" y1="525.62" x2="160.10" y2="525.62" stroke="#171212" stroke-width="0.9"/>
<line x1="156.30" y1="509.33" x2="160.10" y2="509.33" stroke="#171212" stroke-width="0.9"/>
<text x="153.70" y="511.93" font-size="7.3" text-anchor="end">40</text>
<line x1="157.70" y1="493.05" x2="160.10" y2="493.05" stroke="#171212" stroke-width="0.9"/>
<line x1="156.30" y1="476.76" x2="160.10" y2="476.76" stroke="#171212" stroke-width="0.9"/>
<text x="153.70" y="479.36" font-size="7.3" text-anchor="end">80</text>
<line x1="157.70" y1="460.48" x2="160.10" y2="460.48" stroke="#171212" stroke-width="0.9"/>
<line x1="156.30" y1="444.20" x2="160.10" y2="444.20" stroke="#171212" stroke-width="0.9"/>
<text x="153.70" y="446.80" font-size="7.3" text-anchor="end">120</text>
<line x1="172.30" y1="541.90" x2="172.30" y2="546.50" stroke="#171212" stroke-width="0.9"/>
<text x="173.00" y="553.30" font-size="7.8" text-anchor="end" transform="rotate(-45 173.00 553.30)">V290</text>
<line x1="190.75" y1="541.90" x2="190.75" y2="546.50" stroke="#171212" stroke-width="0.9"/>
<text x="191.45" y="553.30" font-size="7.8" text-anchor="end" transform="rotate(-45 191.45 553.30)">P393</text>
<line x1="209.20" y1="541.90" x2="209.20" y2="546.50" stroke="#171212" stroke-width="0.9"/>
<text x="209.90" y="553.30" font-size="7.8" text-anchor="end" transform="rotate(-45 209.90 553.30)">S418</text>
<line x1="227.60" y1="541.90" x2="227.60" y2="546.50" stroke="#171212" stroke-width="0.9"/>
<text x="228.30" y="553.30" font-size="7.8" text-anchor="end" transform="rotate(-45 228.30 553.30)">G456</text>
<line x1="246.00" y1="541.90" x2="246.00" y2="546.50" stroke="#171212" stroke-width="0.9"/>
<text x="246.70" y="553.30" font-size="7.8" text-anchor="end" transform="rotate(-45 246.70 553.30)">T522</text>
<text x="324.60" y="436.90" font-size="8.5" text-anchor="middle">Passage 3</text>
<rect x="279.55" y="460.48" width="12.10" height="81.42" fill="#c1c1c1" stroke="none" stroke-width="0.9"/>
<rect x="279.55" y="538.48" width="12.10" height="3.42" fill="#b8182f" stroke="none" stroke-width="0.9"/>
<rect x="279.55" y="536.77" width="12.10" height="1.71" fill="#f07a48" stroke="none" stroke-width="0.9"/>
<rect x="297.95" y="460.48" width="12.10" height="81.42" fill="#c1c1c1" stroke="none" stroke-width="0.9"/>
<rect x="297.95" y="508.84" width="12.10" height="33.06" fill="#fdc47c" stroke="none" stroke-width="0.9"/>
<rect x="316.15" y="460.48" width="12.10" height="81.42" fill="#c1c1c1" stroke="none" stroke-width="0.9"/>
<rect x="316.15" y="541.30" width="12.10" height="0.60" fill="#d8d2a0" stroke="none" stroke-width="0.9"/>
<rect x="334.60" y="460.48" width="12.10" height="81.42" fill="#c1c1c1" stroke="none" stroke-width="0.9"/>
<rect x="334.60" y="541.30" width="12.10" height="0.60" fill="#b4c4d0" stroke="none" stroke-width="0.9"/>
<rect x="352.95" y="460.48" width="12.10" height="81.42" fill="#c1c1c1" stroke="none" stroke-width="0.9"/>
<rect x="352.95" y="540.90" width="12.10" height="1.00" fill="#3f5fae" stroke="none" stroke-width="0.9"/>
<line x1="273.40" y1="443.80" x2="273.40" y2="542.30" stroke="#171212" stroke-width="0.9"/>
<line x1="273.40" y1="541.90" x2="370.60" y2="541.90" stroke="#4a4a4a" stroke-width="0.9"/>
<line x1="269.60" y1="541.90" x2="273.40" y2="541.90" stroke="#171212" stroke-width="0.9"/>
<text x="267.00" y="544.50" font-size="7.3" text-anchor="end">0</text>
<line x1="271.00" y1="525.62" x2="273.40" y2="525.62" stroke="#171212" stroke-width="0.9"/>
<line x1="269.60" y1="509.33" x2="273.40" y2="509.33" stroke="#171212" stroke-width="0.9"/>
<text x="267.00" y="511.93" font-size="7.3" text-anchor="end">40</text>
<line x1="271.00" y1="493.05" x2="273.40" y2="493.05" stroke="#171212" stroke-width="0.9"/>
<line x1="269.60" y1="476.76" x2="273.40" y2="476.76" stroke="#171212" stroke-width="0.9"/>
<text x="267.00" y="479.36" font-size="7.3" text-anchor="end">80</text>
<line x1="271.00" y1="460.48" x2="273.40" y2="460.48" stroke="#171212" stroke-width="0.9"/>
<line x1="269.60" y1="444.20" x2="273.40" y2="444.20" stroke="#171212" stroke-width="0.9"/>
<text x="267.00" y="446.80" font-size="7.3" text-anchor="end">120</text>
<line x1="285.60" y1="541.90" x2="285.60" y2="546.50" stroke="#171212" stroke-width="0.9"/>
<text x="286.30" y="553.30" font-size="7.8" text-anchor="end" transform="rotate(-45 286.30 553.30)">V290</text>
<line x1="304.00" y1="541.90" x2="304.00" y2="546.50" stroke="#171212" stroke-width="0.9"/>
<text x="304.70" y="553.30" font-size="7.8" text-anchor="end" transform="rotate(-45 304.70 553.30)">P393</text>
<line x1="322.20" y1="541.90" x2="322.20" y2="546.50" stroke="#171212" stroke-width="0.9"/>
<text x="322.90" y="553.30" font-size="7.8" text-anchor="end" transform="rotate(-45 322.90 553.30)">S418</text>
<line x1="340.65" y1="541.90" x2="340.65" y2="546.50" stroke="#171212" stroke-width="0.9"/>
<text x="341.35" y="553.30" font-size="7.8" text-anchor="end" transform="rotate(-45 341.35 553.30)">G456</text>
<line x1="359.00" y1="541.90" x2="359.00" y2="546.50" stroke="#171212" stroke-width="0.9"/>
<text x="359.70" y="553.30" font-size="7.8" text-anchor="end" transform="rotate(-45 359.70 553.30)">T522</text>
<text x="437.30" y="436.90" font-size="8.5" text-anchor="middle">Passage 4</text>
<rect x="392.10" y="460.48" width="12.10" height="81.42" fill="#c1c1c1" stroke="none" stroke-width="0.9"/>
<rect x="392.10" y="506.89" width="12.10" height="35.01" fill="#b8182f" stroke="none" stroke-width="0.9"/>
<rect x="392.10" y="502.00" width="12.10" height="4.89" fill="#f07a48" stroke="none" stroke-width="0.9"/>
<rect x="410.70" y="460.48" width="12.10" height="81.42" fill="#c1c1c1" stroke="none" stroke-width="0.9"/>
<rect x="410.70" y="510.63" width="12.10" height="31.27" fill="#fdc47c" stroke="none" stroke-width="0.9"/>
<rect x="429.00" y="460.48" width="12.10" height="81.42" fill="#c1c1c1" stroke="none" stroke-width="0.9"/>
<rect x="447.50" y="460.48" width="12.10" height="81.42" fill="#c1c1c1" stroke="none" stroke-width="0.9"/>
<rect x="447.50" y="541.30" width="12.10" height="0.60" fill="#b4c4d0" stroke="none" stroke-width="0.9"/>
<rect x="465.95" y="460.48" width="12.10" height="81.42" fill="#c1c1c1" stroke="none" stroke-width="0.9"/>
<rect x="465.95" y="540.90" width="12.10" height="1.00" fill="#3f5fae" stroke="none" stroke-width="0.9"/>
<line x1="385.80" y1="443.80" x2="385.80" y2="542.30" stroke="#171212" stroke-width="0.9"/>
<line x1="385.80" y1="541.90" x2="484.30" y2="541.90" stroke="#4a4a4a" stroke-width="0.9"/>
<line x1="382.00" y1="541.90" x2="385.80" y2="541.90" stroke="#171212" stroke-width="0.9"/>
<text x="379.40" y="544.50" font-size="7.3" text-anchor="end">0</text>
<line x1="383.40" y1="525.62" x2="385.80" y2="525.62" stroke="#171212" stroke-width="0.9"/>
<line x1="382.00" y1="509.33" x2="385.80" y2="509.33" stroke="#171212" stroke-width="0.9"/>
<text x="379.40" y="511.93" font-size="7.3" text-anchor="end">40</text>
<line x1="383.40" y1="493.05" x2="385.80" y2="493.05" stroke="#171212" stroke-width="0.9"/>
<line x1="382.00" y1="476.76" x2="385.80" y2="476.76" stroke="#171212" stroke-width="0.9"/>
<text x="379.40" y="479.36" font-size="7.3" text-anchor="end">80</text>
<line x1="383.40" y1="460.48" x2="385.80" y2="460.48" stroke="#171212" stroke-width="0.9"/>
<line x1="382.00" y1="444.20" x2="385.80" y2="444.20" stroke="#171212" stroke-width="0.9"/>
<text x="379.40" y="446.80" font-size="7.3" text-anchor="end">120</text>
<line x1="398.15" y1="541.90" x2="398.15" y2="546.50" stroke="#171212" stroke-width="0.9"/>
<text x="398.85" y="553.30" font-size="7.8" text-anchor="end" transform="rotate(-45 398.85 553.30)">V290</text>
<line x1="416.75" y1="541.90" x2="416.75" y2="546.50" stroke="#171212" stroke-width="0.9"/>
<text x="417.45" y="553.30" font-size="7.8" text-anchor="end" transform="rotate(-45 417.45 553.30)">P393</text>
<line x1="435.05" y1="541.90" x2="435.05" y2="546.50" stroke="#171212" stroke-width="0.9"/>
<text x="435.75" y="553.30" font-size="7.8" text-anchor="end" transform="rotate(-45 435.75 553.30)">S418</text>
<line x1="453.55" y1="541.90" x2="453.55" y2="546.50" stroke="#171212" stroke-width="0.9"/>
<text x="454.25" y="553.30" font-size="7.8" text-anchor="end" transform="rotate(-45 454.25 553.30)">G456</text>
<line x1="472.00" y1="541.90" x2="472.00" y2="546.50" stroke="#171212" stroke-width="0.9"/>
<text x="472.70" y="553.30" font-size="7.8" text-anchor="end" transform="rotate(-45 472.70 553.30)">T522</text>
<text x="554.00" y="436.90" font-size="8.5" text-anchor="middle">Passage 5</text>
<rect x="508.80" y="460.48" width="12.10" height="81.42" fill="#c1c1c1" stroke="none" stroke-width="0.9"/>
<rect x="508.80" y="463.25" width="12.10" height="78.65" fill="#b8182f" stroke="none" stroke-width="0.9"/>
<rect x="508.80" y="460.48" width="12.10" height="2.77" fill="#f07a48" stroke="none" stroke-width="0.9"/>
<rect x="527.30" y="460.48" width="12.10" height="81.42" fill="#c1c1c1" stroke="none" stroke-width="0.9"/>
<rect x="545.75" y="460.48" width="12.10" height="81.42" fill="#c1c1c1" stroke="none" stroke-width="0.9"/>
<rect x="564.10" y="460.48" width="12.10" height="81.42" fill="#c1c1c1" stroke="none" stroke-width="0.9"/>
<rect x="564.10" y="541.30" width="12.10" height="0.60" fill="#b4c4d0" stroke="none" stroke-width="0.9"/>
<rect x="582.60" y="460.48" width="12.10" height="81.42" fill="#c1c1c1" stroke="none" stroke-width="0.9"/>
<rect x="582.60" y="540.90" width="12.10" height="1.00" fill="#3f5fae" stroke="none" stroke-width="0.9"/>
<line x1="502.60" y1="443.80" x2="502.60" y2="542.30" stroke="#171212" stroke-width="0.9"/>
<line x1="502.60" y1="541.90" x2="601.00" y2="541.90" stroke="#4a4a4a" stroke-width="0.9"/>
<line x1="498.80" y1="541.90" x2="502.60" y2="541.90" stroke="#171212" stroke-width="0.9"/>
<text x="496.20" y="544.50" font-size="7.3" text-anchor="end">0</text>
<line x1="500.20" y1="525.62" x2="502.60" y2="525.62" stroke="#171212" stroke-width="0.9"/>
<line x1="498.80" y1="509.33" x2="502.60" y2="509.33" stroke="#171212" stroke-width="0.9"/>
<text x="496.20" y="511.93" font-size="7.3" text-anchor="end">40</text>
<line x1="500.20" y1="493.05" x2="502.60" y2="493.05" stroke="#171212" stroke-width="0.9"/>
<line x1="498.80" y1="476.76" x2="502.60" y2="476.76" stroke="#171212" stroke-width="0.9"/>
<text x="496.20" y="479.36" font-size="7.3" text-anchor="end">80</text>
<line x1="500.20" y1="460.48" x2="502.60" y2="460.48" stroke="#171212" stroke-width="0.9"/>
<line x1="498.80" y1="444.20" x2="502.60" y2="444.20" stroke="#171212" stroke-width="0.9"/>
<text x="496.20" y="446.80" font-size="7.3" text-anchor="end">120</text>
<line x1="514.85" y1="541.90" x2="514.85" y2="546.50" stroke="#171212" stroke-width="0.9"/>
<text x="515.55" y="553.30" font-size="7.8" text-anchor="end" transform="rotate(-45 515.55 553.30)">V290</text>
<line x1="533.35" y1="541.90" x2="533.35" y2="546.50" stroke="#171212" stroke-width="0.9"/>
<text x="534.05" y="553.30" font-size="7.8" text-anchor="end" transform="rotate(-45 534.05 553.30)">P393</text>
<line x1="551.80" y1="541.90" x2="551.80" y2="546.50" stroke="#171212" stroke-width="0.9"/>
<text x="552.50" y="553.30" font-size="7.8" text-anchor="end" transform="rotate(-45 552.50 553.30)">S418</text>
<line x1="570.15" y1="541.90" x2="570.15" y2="546.50" stroke="#171212" stroke-width="0.9"/>
<text x="570.85" y="553.30" font-size="7.8" text-anchor="end" transform="rotate(-45 570.85 553.30)">G456</text>
<line x1="588.65" y1="541.90" x2="588.65" y2="546.50" stroke="#171212" stroke-width="0.9"/>
<text x="589.35" y="553.30" font-size="7.8" text-anchor="end" transform="rotate(-45 589.35 553.30)">T522</text>
<rect x="610.60" y="448.10" width="10.80" height="5.60" fill="#c1c1c1" stroke="none" stroke-width="0.9"/>
<text x="627.00" y="453.60" font-size="7.5">Wild-type</text>
<rect x="610.60" y="461.92" width="10.80" height="5.60" fill="#b8182f" stroke="none" stroke-width="0.9"/>
<text x="627.00" y="467.42" font-size="7.5">V290A</text>
<rect x="610.60" y="475.74" width="10.80" height="5.60" fill="#f07a48" stroke="none" stroke-width="0.9"/>
<text x="627.00" y="481.24" font-size="7.5">V290F</text>
<rect x="610.60" y="489.56" width="10.80" height="5.60" fill="#fdc47c" stroke="none" stroke-width="0.9"/>
<text x="627.00" y="495.06" font-size="7.5">P393L</text>
<rect x="610.60" y="503.38" width="10.80" height="5.60" fill="#fff6bc" stroke="none" stroke-width="0.9"/>
<text x="627.00" y="508.88" font-size="7.5">S418I</text>
<rect x="610.60" y="517.20" width="10.80" height="5.60" fill="#d6eaf6" stroke="none" stroke-width="0.9"/>
<text x="627.00" y="522.70" font-size="7.5">G456E</text>
<rect x="610.60" y="531.02" width="10.80" height="5.60" fill="#3f5fae" stroke="none" stroke-width="0.9"/>
<text x="627.00" y="536.52" font-size="7.5">T522I</text>
<text x="1.20" y="590.00" font-size="14.5" font-weight="bold">j</text>
<path d="M23.4,591.0 C12.6,594.6 13.0,616.5 28.8,616.5 L160.8,616.5 C176.8,616.5 178.4,594.0 163.3,590.4" fill="none" stroke="#262222" stroke-width="0.9"/>
<path d="M23.0,586.6 L28.3,590.3 L23.0,594.0 Z" fill="#fff" stroke="#262222" stroke-width="0.8"/>
<rect x="28.40" y="585.60" width="134.90" height="9.50" fill="#fff" stroke="#262222" stroke-width="0.85"/>
<rect x="88.00" y="585.60" width="57.70" height="9.50" fill="#e6e6e6" stroke="#262222" stroke-width="0.85"/>
<line x1="39.70" y1="585.60" x2="39.70" y2="595.10" stroke="#262222" stroke-width="0.75"/>
<line x1="52.00" y1="585.60" x2="52.00" y2="595.10" stroke="#262222" stroke-width="0.75"/>
<line x1="64.00" y1="585.60" x2="64.00" y2="595.10" stroke="#262222" stroke-width="0.75"/>
<line x1="76.10" y1="585.60" x2="76.10" y2="595.10" stroke="#262222" stroke-width="0.75"/>
<line x1="158.80" y1="585.60" x2="158.80" y2="595.10" stroke="#262222" stroke-width="0.75"/>
<line x1="160.80" y1="585.60" x2="160.80" y2="595.10" stroke="#262222" stroke-width="0.75"/>
<text x="117.60" y="593.20" font-size="7.75" text-anchor="middle">Nluc-P2A-Puro</text>
<rect x="49.40" y="606.00" width="84.40" height="9.40" fill="#fff" stroke="none" stroke-width="0.9"/>
<text x="91.40" y="612.80" font-size="7.75" text-anchor="middle">pSARS2-Replicon-Nluc</text>
<line x1="50.00" y1="619.00" x2="50.00" y2="626.00" stroke="#555" stroke-width="1.7"/>
<path d="M50.00,631.40 l-4.40,-6.00 h8.80 z" fill="#555" stroke="none" stroke-width="0.9"/>
<text x="58.10" y="625.70" font-size="7.75">In vitro transcription</text>
<path d="M28.1,639.4 C33,638 37.4,635.0 41.6,635.1 C48.4,635.3 47.6,646.0 56.4,646.4 C66,646.6 78,643.2 87.0,641.0" fill="none" stroke="#d0142c" stroke-width="1.3" stroke-linecap="round"/>
<text x="92.00" y="643.40" font-size="7.75" style="fill:#d0142c;stroke:#d0142c">Replicon RNA</text>
<line x1="50.00" y1="651.00" x2="50.00" y2="658.80" stroke="#555" stroke-width="1.7"/>
<path d="M50.00,664.20 l-4.40,-6.00 h8.80 z" fill="#555" stroke="none" stroke-width="0.9"/>
<path d="M53.9,662.6 L59.2,656.0 L60.1,656.9 L62.3,653.1 L63.4,654.3 L66.4,650.1 L67.0,654.4 L68.1,655.0 L65.3,657.4 L64.7,656.6 L61.8,659.3 L61.0,658.5 Z" fill="#131846" stroke="#2a3cae" stroke-width="0.5" stroke-linejoin="round"/>
<text x="73.70" y="659.40" font-size="7.75">Electroporation</text>
<rect x="12.50" y="665.90" width="168.90" height="75.00" fill="#fde0df" stroke="#8a8a8a" stroke-width="0.7" rx="8"/>
<path d="M17.2,677.8 C21.6,676.6 25.4,673.2 29.0,673.3 C35.2,673.5 34.4,683.9 41.6,684.1 C49,684.3 58,681.4 65.4,679.3" fill="none" stroke="#d0142c" stroke-width="1.3" stroke-linecap="round"/>
<text x="79.90" y="678.80" font-size="7.75">Replication &amp; Translation</text>
<path d="M70.0,679.6 C77.6,679.8 83.6,683.4 83.4,688.6 C83.2,693.2 79.6,696.0 75.8,697.0 L76.0,699.8 L70.6,696.8 L75.4,692.6 L75.6,695.2 C78.4,694.4 80.6,692.2 80.4,689.0 C80.2,685.4 76.0,683.0 70.0,682.4 Z" fill="#18308c" stroke="#18308c" stroke-width="0.3"/>
<path d="M22.5,697.00 C27,695.80 30.6,693.50 34.2,693.70 C40.0,694.00 38.4,703.40 45.0,703.60 C53,703.80 62.6,700.40 70.7,698.00" fill="none" stroke="#1a1a1a" stroke-width="1.05"/>
<path d="M22.5,699.60 C27,698.40 30.6,696.10 34.2,696.30 C40.0,696.60 38.4,706.00 45.0,706.20 C53,706.40 62.6,703.00 70.7,700.60" fill="none" stroke="#1a1a1a" stroke-width="1.05"/>
<path d="M22.5,702.20 C27,701.00 30.6,698.70 34.2,698.90 C40.0,699.20 38.4,708.60 45.0,708.80 C53,709.00 62.6,705.60 70.7,703.20" fill="none" stroke="#1a1a1a" stroke-width="1.05"/>
<line x1="63.50" y1="711.40" x2="63.50" y2="717.90" stroke="#1a2a9a" stroke-width="1.5"/>
<path d="M63.50,724.30 l-4.00,-7.00 h8.00 z" fill="#1a2a9a" stroke="none" stroke-width="0.9"/>
<text x="70.70" y="718.90" font-size="7.75">Translation</text>
<ellipse cx="143.2" cy="715.7" rx="25.0" ry="11.2" fill="#f6ccab" stroke="#3a3a3a" stroke-width="0.7"/>
<text x="143.20" y="718.20" font-size="7.75" text-anchor="middle">Nucleus</text>
<rect x="40.60" y="726.30" width="44.90" height="11.90" fill="#f6b31f" stroke="#3a3a3a" stroke-width="0.7" rx="5.9"/>
<text x="60.80" y="734.80" font-size="7.75" text-anchor="middle">Nanoluc</text>
<text x="246.50" y="588.80" font-size="7.5" text-anchor="middle">Luciferase activity</text>
<line x1="215.10" y1="614.85" x2="215.10" y2="673.20" stroke="#171212" stroke-width="0.9"/>
<line x1="215.10" y1="679.60" x2="215.10" y2="704.80" stroke="#171212" stroke-width="0.9"/>
<line x1="212.50" y1="674.60" x2="217.70" y2="671.80" stroke="#171212" stroke-width="0.9"/>
<line x1="212.50" y1="681.00" x2="217.70" y2="678.20" stroke="#171212" stroke-width="0.9"/>
<line x1="211.50" y1="668.10" x2="215.10" y2="668.10" stroke="#171212" stroke-width="0.9"/>
<text x="209.80" y="670.70" font-size="7.3" text-anchor="end">20</text>
<line x1="211.50" y1="657.53" x2="215.10" y2="657.53" stroke="#171212" stroke-width="0.9"/>
<text x="209.80" y="660.13" font-size="7.3" text-anchor="end">40</text>
<line x1="211.50" y1="646.96" x2="215.10" y2="646.96" stroke="#171212" stroke-width="0.9"/>
<text x="209.80" y="649.56" font-size="7.3" text-anchor="end">60</text>
<line x1="211.50" y1="636.39" x2="215.10" y2="636.39" stroke="#171212" stroke-width="0.9"/>
<text x="209.80" y="638.99" font-size="7.3" text-anchor="end">80</text>
<line x1="211.50" y1="625.82" x2="215.10" y2="625.82" stroke="#171212" stroke-width="0.9"/>
<text x="209.80" y="628.42" font-size="7.3" text-anchor="end">100</text>
<line x1="211.50" y1="615.25" x2="215.10" y2="615.25" stroke="#171212" stroke-width="0.9"/>
<text x="209.80" y="617.85" font-size="7.3" text-anchor="end">120</text>
<line x1="211.50" y1="704.40" x2="215.10" y2="704.40" stroke="#171212" stroke-width="0.9"/>
<text x="209.80" y="707.00" font-size="7.3" text-anchor="end">0</text>
<line x1="211.50" y1="692.10" x2="215.10" y2="692.10" stroke="#171212" stroke-width="0.9"/>
<text x="209.80" y="694.70" font-size="7.3" text-anchor="end">5</text>
<line x1="211.50" y1="679.80" x2="215.10" y2="679.80" stroke="#171212" stroke-width="0.9"/>
<text x="209.80" y="682.40" font-size="7.3" text-anchor="end">10</text>
<line x1="215.10" y1="704.40" x2="275.00" y2="704.40" stroke="#171212" stroke-width="0.9"/>
<text x="193.40" y="656.80" font-size="7.8" text-anchor="middle" transform="rotate(-90 193.40 656.80)">Fold change (%)</text>
<rect x="220.60" y="625.82" width="12.20" height="47.18" fill="#3aaea0" stroke="#17413c" stroke-width="0.7"/>
<rect x="220.60" y="679.80" width="12.20" height="24.60" fill="#3aaea0" stroke="#17413c" stroke-width="0.7"/>
<circle cx="222.30" cy="628.22" r="1.7" fill="#2f9f92" stroke="#17413c" stroke-width="0.55"/>
<circle cx="224.50" cy="624.62" r="1.7" fill="#2f9f92" stroke="#17413c" stroke-width="0.55"/>
<circle cx="226.90" cy="627.62" r="1.7" fill="#2f9f92" stroke="#17413c" stroke-width="0.55"/>
<circle cx="229.10" cy="623.22" r="1.7" fill="#2f9f92" stroke="#17413c" stroke-width="0.55"/>
<circle cx="231.30" cy="628.02" r="1.7" fill="#2f9f92" stroke="#17413c" stroke-width="0.55"/>
<circle cx="227.90" cy="625.62" r="1.7" fill="#2f9f92" stroke="#17413c" stroke-width="0.55"/>
<rect x="238.20" y="697.81" width="12.60" height="6.59" fill="#d93652" stroke="#7e1428" stroke-width="0.7"/>
<line x1="244.50" y1="701.45" x2="244.50" y2="694.07" stroke="#7e1428" stroke-width="0.7"/>
<line x1="241.60" y1="694.07" x2="247.40" y2="694.07" stroke="#7e1428" stroke-width="0.7"/>
<circle cx="240.10" cy="692.84" r="1.3" fill="#e2506a" stroke="#7e1428" stroke-width="0.5"/>
<circle cx="241.10" cy="700.46" r="1.3" fill="#e2506a" stroke="#7e1428" stroke-width="0.5"/>
<circle cx="243.30" cy="701.45" r="1.3" fill="#e2506a" stroke="#7e1428" stroke-width="0.5"/>
<circle cx="245.30" cy="696.04" r="1.3" fill="#e2506a" stroke="#7e1428" stroke-width="0.5"/>
<circle cx="247.50" cy="700.96" r="1.3" fill="#e2506a" stroke="#7e1428" stroke-width="0.5"/>
<circle cx="249.30" cy="695.54" r="1.3" fill="#e2506a" stroke="#7e1428" stroke-width="0.5"/>
<rect x="256.80" y="703.24" width="12.20" height="1.16" fill="#7f9fd8" stroke="#2d4a88" stroke-width="0.6"/>
<circle cx="258.50" cy="703.17" r="1.2" fill="#9db6e4" stroke="#2d4a88" stroke-width="0.5"/>
<circle cx="260.70" cy="703.17" r="1.2" fill="#9db6e4" stroke="#2d4a88" stroke-width="0.5"/>
<circle cx="263.10" cy="703.17" r="1.2" fill="#9db6e4" stroke="#2d4a88" stroke-width="0.5"/>
<circle cx="265.30" cy="703.17" r="1.2" fill="#9db6e4" stroke="#2d4a88" stroke-width="0.5"/>
<circle cx="267.50" cy="703.17" r="1.2" fill="#9db6e4" stroke="#2d4a88" stroke-width="0.5"/>
<text x="243.40" y="691.20" font-size="7.9" transform="rotate(-45 243.40 691.20)">2.68 %</text>
<text x="260.80" y="699.20" font-size="7.9" transform="rotate(-45 260.80 699.20)">0.47 %</text>
<line x1="226.70" y1="704.40" x2="226.70" y2="708.20" stroke="#171212" stroke-width="0.9"/>
<line x1="244.50" y1="704.40" x2="244.50" y2="708.20" stroke="#171212" stroke-width="0.9"/>
<line x1="262.90" y1="704.40" x2="262.90" y2="708.20" stroke="#171212" stroke-width="0.9"/>
<text x="229.00" y="713.40" font-size="7.9" text-anchor="end" transform="rotate(-45 229.00 713.40)">DMSO</text>
<text x="247.00" y="713.40" font-size="7.9" text-anchor="end" transform="rotate(-45 247.00 713.40)">C10 (10 µM)</text>
<text x="264.20" y="712.20" font-size="7.9" text-anchor="end" transform="rotate(-45 264.20 712.20)">Remdesivir</text>
<text x="270.40" y="720.60" font-size="7.9" text-anchor="end" transform="rotate(-45 270.40 720.60)">(10 µM)</text>
<text x="247.40" y="600.70" font-size="6.25" text-anchor="middle"><tspan font-style="italic">P</tspan> &lt; 0.0001</text>
<path d="M224.60,609.40 V605.20 H263.00 V609.40" fill="none" stroke="#171212" stroke-width="0.9"/>
<text x="237.80" y="615.70" font-size="6.25" text-anchor="middle"><tspan font-style="italic">P</tspan> &lt; 0.0001</text>
<path d="M224.60,622.90 V618.60 H243.80 V622.90" fill="none" stroke="#171212" stroke-width="0.9"/>
<text x="295.00" y="590.60" font-size="14.5" font-weight="bold">k</text>
<text x="356.60" y="602.70" font-size="6.2" text-anchor="middle">Virus</text>
<text x="356.60" y="610.60" font-size="6.2" text-anchor="middle">inoculation</text>
<text x="390.20" y="602.70" font-size="6.2" text-anchor="middle">Removal of</text>
<text x="390.20" y="610.60" font-size="6.2" text-anchor="middle">inoculum</text>
<line x1="329.50" y1="618.10" x2="416.20" y2="618.10" stroke="#2f4d62" stroke-width="0.9"/>
<line x1="421.20" y1="618.10" x2="446.60" y2="618.10" stroke="#2f4d62" stroke-width="0.9"/>
<line x1="415.20" y1="620.60" x2="418.60" y2="615.80" stroke="#2f4d62" stroke-width="0.9"/>
<line x1="418.40" y1="620.60" x2="421.80" y2="615.80" stroke="#2f4d62" stroke-width="0.9"/>
<line x1="329.50" y1="615.60" x2="329.50" y2="620.80" stroke="#2f4d62" stroke-width="0.9"/>
<text x="329.10" y="627.60" font-size="6.2" text-anchor="middle">-1h</text>
<line x1="357.40" y1="615.60" x2="357.40" y2="620.80" stroke="#2f4d62" stroke-width="0.9"/>
<text x="357.00" y="627.60" font-size="6.2" text-anchor="middle">0h</text>
<line x1="390.60" y1="615.60" x2="390.60" y2="620.80" stroke="#2f4d62" stroke-width="0.9"/>
<text x="390.20" y="627.60" font-size="6.2" text-anchor="middle">2h</text>
<line x1="446.60" y1="615.60" x2="446.60" y2="620.80" stroke="#2f4d62" stroke-width="0.9"/>
<text x="446.40" y="627.60" font-size="6.2" text-anchor="middle">24h</text>
<line x1="324.70" y1="630.30" x2="324.70" y2="666.80" stroke="#2f4d62" stroke-width="0.9"/>
<path d="M329.00,632.30 H378.80 V628.50 L390.00,635.70 L378.80,642.90 V639.10 H329.00 Z" fill="#e3e4e4" stroke="#2f4d62" stroke-width="0.6"/>
<path d="M390.60,639.80 H434.60 V636.00 L445.90,643.20 L434.60,650.40 V646.60 H390.60 Z" fill="#e3e4e4" stroke="#2f4d62" stroke-width="0.6"/>
<path d="M329.00,655.50 H434.60 V651.70 L445.90,658.90 L434.60,666.10 V662.30 H329.00 Z" fill="#e3e4e4" stroke="#2f4d62" stroke-width="0.6"/>
<text x="355.40" y="637.90" font-size="6.2" text-anchor="middle">Entry</text>
<text x="413.80" y="645.50" font-size="6.2" text-anchor="middle">Post-entry</text>
<text x="382.40" y="661.20" font-size="6.2" text-anchor="middle">Full-time</text>
<text x="303.20" y="644.60" font-size="7.5" text-anchor="middle">Compunds</text>
<text x="303.20" y="653.70" font-size="7.5" text-anchor="middle">added</text>
<text x="451.90" y="683.50" font-size="7.7" text-anchor="end">DMSO</text>
<circle cx="457.80" cy="680.70" r="1.8" fill="#000" stroke="#000" stroke-width="0.75"/>
<text x="451.90" y="696.70" font-size="7.7" text-anchor="end">20 µM C10</text>
<circle cx="457.80" cy="693.90" r="1.8" fill="#f2b06a" stroke="#a8742c" stroke-width="0.75"/>
<text x="451.90" y="709.90" font-size="7.7" text-anchor="end">10 µM C10</text>
<circle cx="457.80" cy="707.10" r="1.8" fill="#c3d5ef" stroke="#3f70b0" stroke-width="0.75"/>
<text x="451.90" y="723.10" font-size="7.7" text-anchor="end">3 µM C10</text>
<circle cx="457.80" cy="720.30" r="1.8" fill="#f8c4c0" stroke="#dc4c48" stroke-width="0.75"/>
<text x="490.40" y="597.60" font-size="7.6">A549-ACE2</text>
<line x1="502.40" y1="618.60" x2="502.40" y2="709.80" stroke="#171212" stroke-width="0.9"/>
<line x1="502.40" y1="709.40" x2="638.00" y2="709.40" stroke="#171212" stroke-width="0.9"/>
<line x1="498.60" y1="709.40" x2="502.40" y2="709.40" stroke="#171212" stroke-width="0.9"/>
<text x="497.20" y="712.10" font-size="7.5" text-anchor="end">0</text>
<line x1="500.00" y1="694.33" x2="502.40" y2="694.33" stroke="#171212" stroke-width="0.9"/>
<line x1="498.60" y1="679.27" x2="502.40" y2="679.27" stroke="#171212" stroke-width="0.9"/>
<text x="497.20" y="681.97" font-size="7.5" text-anchor="end">40</text>
<line x1="500.00" y1="664.20" x2="502.40" y2="664.20" stroke="#171212" stroke-width="0.9"/>
<line x1="498.60" y1="649.14" x2="502.40" y2="649.14" stroke="#171212" stroke-width="0.9"/>
<text x="497.20" y="651.84" font-size="7.5" text-anchor="end">80</text>
<line x1="500.00" y1="634.07" x2="502.40" y2="634.07" stroke="#171212" stroke-width="0.9"/>
<line x1="498.60" y1="619.00" x2="502.40" y2="619.00" stroke="#171212" stroke-width="0.9"/>
<text x="497.20" y="621.70" font-size="7.5" text-anchor="end">120</text>
<text x="480.40" y="662.40" font-size="7.5" text-anchor="middle" transform="rotate(-90 480.40 662.40)">Relative infection (%)</text>
<rect x="505.35" y="634.07" width="6.30" height="75.33" fill="#808080" stroke="#111111" stroke-width="0.85"/>
<line x1="508.50" y1="638.59" x2="508.50" y2="628.80" stroke="#111111" stroke-width="0.7"/>
<line x1="506.30" y1="628.80" x2="510.70" y2="628.80" stroke="#111111" stroke-width="0.7"/>
<line x1="506.30" y1="638.59" x2="510.70" y2="638.59" stroke="#111111" stroke-width="0.7"/>
<circle cx="507.10" cy="630.30" r="1.9" fill="#000" stroke="#000" stroke-width="0.65"/>
<circle cx="509.90" cy="630.30" r="1.9" fill="#000" stroke="#000" stroke-width="0.65"/>
<circle cx="508.90" cy="640.85" r="1.9" fill="#000" stroke="#000" stroke-width="0.65"/>
<line x1="508.50" y1="709.40" x2="508.50" y2="713.00" stroke="#171212" stroke-width="0.9"/>
<rect x="515.05" y="634.07" width="6.30" height="75.33" fill="#808080" stroke="#111111" stroke-width="0.85"/>
<line x1="518.20" y1="635.58" x2="518.20" y2="631.81" stroke="#111111" stroke-width="0.7"/>
<line x1="516.00" y1="631.81" x2="520.40" y2="631.81" stroke="#111111" stroke-width="0.7"/>
<line x1="516.00" y1="635.58" x2="520.40" y2="635.58" stroke="#111111" stroke-width="0.7"/>
<circle cx="517.40" cy="635.20" r="1.9" fill="#000" stroke="#000" stroke-width="0.65"/>
<circle cx="518.80" cy="632.56" r="1.9" fill="#000" stroke="#000" stroke-width="0.65"/>
<circle cx="519.60" cy="633.69" r="1.9" fill="#000" stroke="#000" stroke-width="0.65"/>
<line x1="518.20" y1="709.40" x2="518.20" y2="713.00" stroke="#171212" stroke-width="0.9"/>
<rect x="524.55" y="634.07" width="6.30" height="75.33" fill="#808080" stroke="#111111" stroke-width="0.85"/>
<line x1="527.70" y1="642.36" x2="527.70" y2="624.28" stroke="#111111" stroke-width="0.7"/>
<line x1="525.50" y1="624.28" x2="529.90" y2="624.28" stroke="#111111" stroke-width="0.7"/>
<line x1="525.50" y1="642.36" x2="529.90" y2="642.36" stroke="#111111" stroke-width="0.7"/>
<circle cx="527.70" cy="623.52" r="1.9" fill="#000" stroke="#000" stroke-width="0.65"/>
<circle cx="528.30" cy="635.58" r="1.9" fill="#000" stroke="#000" stroke-width="0.65"/>
<circle cx="527.70" cy="641.98" r="1.9" fill="#000" stroke="#000" stroke-width="0.65"/>
<line x1="527.70" y1="709.40" x2="527.70" y2="713.00" stroke="#171212" stroke-width="0.9"/>
<text x="510.80" y="718.60" font-size="6.7" text-anchor="end" transform="rotate(-45 510.80 718.60)">Full-time</text>
<text x="520.50" y="718.60" font-size="6.7" text-anchor="end" transform="rotate(-45 520.50 718.60)">Entry</text>
<text x="530.00" y="718.60" font-size="6.7" text-anchor="end" transform="rotate(-45 530.00 718.60)">Post-entry</text>
<circle cx="542.00" cy="708.95" r="1.8" fill="#f2b06a" stroke="#a8742c" stroke-width="0.65"/>
<circle cx="544.40" cy="708.95" r="1.8" fill="#f2b06a" stroke="#a8742c" stroke-width="0.65"/>
<circle cx="543.20" cy="709.25" r="1.8" fill="#f2b06a" stroke="#a8742c" stroke-width="0.65"/>
<line x1="543.20" y1="709.40" x2="543.20" y2="713.00" stroke="#171212" stroke-width="0.9"/>
<rect x="549.85" y="628.04" width="6.30" height="81.36" fill="#f2b264" stroke="#a8742c" stroke-width="0.85"/>
<line x1="553.00" y1="632.56" x2="553.00" y2="623.52" stroke="#a8742c" stroke-width="0.7"/>
<line x1="550.80" y1="623.52" x2="555.20" y2="623.52" stroke="#a8742c" stroke-width="0.7"/>
<line x1="550.80" y1="632.56" x2="555.20" y2="632.56" stroke="#a8742c" stroke-width="0.7"/>
<circle cx="551.30" cy="624.80" r="1.8" fill="#f2b06a" stroke="#a8742c" stroke-width="0.65"/>
<circle cx="554.60" cy="624.80" r="1.8" fill="#f2b06a" stroke="#a8742c" stroke-width="0.65"/>
<circle cx="552.80" cy="631.58" r="1.8" fill="#f2b06a" stroke="#a8742c" stroke-width="0.65"/>
<line x1="553.00" y1="709.40" x2="553.00" y2="713.00" stroke="#171212" stroke-width="0.9"/>
<circle cx="561.40" cy="708.95" r="1.8" fill="#f2b06a" stroke="#a8742c" stroke-width="0.65"/>
<circle cx="563.80" cy="708.95" r="1.8" fill="#f2b06a" stroke="#a8742c" stroke-width="0.65"/>
<circle cx="562.60" cy="709.25" r="1.8" fill="#f2b06a" stroke="#a8742c" stroke-width="0.65"/>
<line x1="562.60" y1="709.40" x2="562.60" y2="713.00" stroke="#171212" stroke-width="0.9"/>
<text x="545.50" y="718.60" font-size="6.7" text-anchor="end" transform="rotate(-45 545.50 718.60)">Full-time</text>
<text x="555.30" y="718.60" font-size="6.7" text-anchor="end" transform="rotate(-45 555.30 718.60)">Entry</text>
<text x="564.90" y="718.60" font-size="6.7" text-anchor="end" transform="rotate(-45 564.90 718.60)">Post-entry</text>
<rect x="575.15" y="705.93" width="6.30" height="3.47" fill="#a9c2e4" stroke="#3c6ca8" stroke-width="0.85"/>
<circle cx="576.90" cy="706.84" r="1.8" fill="#b4c9e8" stroke="#3f70b0" stroke-width="0.65"/>
<circle cx="579.70" cy="706.84" r="1.8" fill="#b4c9e8" stroke="#3f70b0" stroke-width="0.65"/>
<circle cx="578.30" cy="706.24" r="1.8" fill="#b4c9e8" stroke="#3f70b0" stroke-width="0.65"/>
<line x1="578.30" y1="709.40" x2="578.30" y2="713.00" stroke="#171212" stroke-width="0.9"/>
<rect x="584.35" y="629.32" width="6.30" height="80.08" fill="#a9c2e4" stroke="#3c6ca8" stroke-width="0.85"/>
<line x1="587.50" y1="633.32" x2="587.50" y2="625.33" stroke="#3c6ca8" stroke-width="0.7"/>
<line x1="585.30" y1="625.33" x2="589.70" y2="625.33" stroke="#3c6ca8" stroke-width="0.7"/>
<line x1="585.30" y1="633.32" x2="589.70" y2="633.32" stroke="#3c6ca8" stroke-width="0.7"/>
<circle cx="587.50" cy="624.50" r="1.8" fill="#b4c9e8" stroke="#3f70b0" stroke-width="0.65"/>
<circle cx="587.20" cy="628.87" r="1.8" fill="#b4c9e8" stroke="#3f70b0" stroke-width="0.65"/>
<circle cx="587.70" cy="632.04" r="1.8" fill="#b4c9e8" stroke="#3f70b0" stroke-width="0.65"/>
<line x1="587.50" y1="709.40" x2="587.50" y2="713.00" stroke="#171212" stroke-width="0.9"/>
<rect x="593.95" y="705.93" width="6.30" height="3.47" fill="#a9c2e4" stroke="#3c6ca8" stroke-width="0.85"/>
<circle cx="595.70" cy="706.84" r="1.8" fill="#b4c9e8" stroke="#3f70b0" stroke-width="0.65"/>
<circle cx="598.50" cy="706.84" r="1.8" fill="#b4c9e8" stroke="#3f70b0" stroke-width="0.65"/>
<circle cx="597.10" cy="706.24" r="1.8" fill="#b4c9e8" stroke="#3f70b0" stroke-width="0.65"/>
<line x1="597.10" y1="709.40" x2="597.10" y2="713.00" stroke="#171212" stroke-width="0.9"/>
<text x="580.60" y="718.60" font-size="6.7" text-anchor="end" transform="rotate(-45 580.60 718.60)">Full-time</text>
<text x="589.80" y="718.60" font-size="6.7" text-anchor="end" transform="rotate(-45 589.80 718.60)">Entry</text>
<text x="599.40" y="718.60" font-size="6.7" text-anchor="end" transform="rotate(-45 599.40 718.60)">Post-entry</text>
<rect x="609.75" y="694.94" width="6.30" height="14.46" fill="#f3a19e" stroke="#e0524e" stroke-width="0.85"/>
<circle cx="611.70" cy="695.09" r="1.8" fill="#f6b0ac" stroke="#dc4c48" stroke-width="0.65"/>
<circle cx="613.90" cy="692.83" r="1.8" fill="#f6b0ac" stroke="#dc4c48" stroke-width="0.65"/>
<circle cx="612.90" cy="696.59" r="1.8" fill="#f6b0ac" stroke="#dc4c48" stroke-width="0.65"/>
<line x1="612.90" y1="709.40" x2="612.90" y2="713.00" stroke="#171212" stroke-width="0.9"/>
<rect x="619.05" y="630.00" width="6.30" height="79.40" fill="#f3a19e" stroke="#e0524e" stroke-width="0.85"/>
<line x1="622.20" y1="633.32" x2="622.20" y2="626.69" stroke="#e0524e" stroke-width="0.7"/>
<line x1="620.00" y1="626.69" x2="624.40" y2="626.69" stroke="#e0524e" stroke-width="0.7"/>
<line x1="620.00" y1="633.32" x2="624.40" y2="633.32" stroke="#e0524e" stroke-width="0.7"/>
<circle cx="622.20" cy="626.76" r="1.8" fill="#f6b0ac" stroke="#dc4c48" stroke-width="0.65"/>
<circle cx="622.20" cy="630.00" r="1.8" fill="#f6b0ac" stroke="#dc4c48" stroke-width="0.65"/>
<circle cx="622.20" cy="633.69" r="1.8" fill="#f6b0ac" stroke="#dc4c48" stroke-width="0.65"/>
<line x1="622.20" y1="709.40" x2="622.20" y2="713.00" stroke="#171212" stroke-width="0.9"/>
<rect x="628.65" y="694.94" width="6.30" height="14.46" fill="#f3a19e" stroke="#e0524e" stroke-width="0.85"/>
<circle cx="630.60" cy="695.09" r="1.8" fill="#f6b0ac" stroke="#dc4c48" stroke-width="0.65"/>
<circle cx="632.80" cy="692.83" r="1.8" fill="#f6b0ac" stroke="#dc4c48" stroke-width="0.65"/>
<circle cx="631.80" cy="696.59" r="1.8" fill="#f6b0ac" stroke="#dc4c48" stroke-width="0.65"/>
<line x1="631.80" y1="709.40" x2="631.80" y2="713.00" stroke="#171212" stroke-width="0.9"/>
<text x="615.20" y="718.60" font-size="6.7" text-anchor="end" transform="rotate(-45 615.20 718.60)">Full-time</text>
<text x="624.50" y="718.60" font-size="6.7" text-anchor="end" transform="rotate(-45 624.50 718.60)">Entry</text>
<text x="634.10" y="718.60" font-size="6.7" text-anchor="end" transform="rotate(-45 634.10 718.60)">Post-entry</text>
<text x="561.20" y="596.40" font-size="6.25" text-anchor="middle"><tspan font-style="italic">P</tspan> &lt; 0.0001</text>
<path d="M552.40,606.00 V601.40 H563.30 V606.00" fill="none" stroke="#171212" stroke-width="0.9"/>
<text x="551.40" y="612.70" font-size="6.25" text-anchor="middle"><tspan font-style="italic">P</tspan> &lt; 0.0001</text>
<path d="M543.20,622.00 V617.00 H553.20 V622.00" fill="none" stroke="#171212" stroke-width="0.9"/>
<text x="597.40" y="596.40" font-size="6.25" text-anchor="middle"><tspan font-style="italic">P</tspan> &lt; 0.0001</text>
<path d="M588.40,606.00 V601.40 H599.20 V606.00" fill="none" stroke="#171212" stroke-width="0.9"/>
<text x="586.20" y="612.70" font-size="6.25" text-anchor="middle"><tspan font-style="italic">P</tspan> &lt; 0.0001</text>
<path d="M578.30,622.00 V617.00 H587.70 V622.00" fill="none" stroke="#171212" stroke-width="0.9"/>
<text x="631.50" y="596.40" font-size="6.25" text-anchor="middle"><tspan font-style="italic">P</tspan> &lt; 0.0001</text>
<path d="M623.00,606.00 V601.40 H633.60 V606.00" fill="none" stroke="#171212" stroke-width="0.9"/>
<text x="620.80" y="614.10" font-size="6.25" text-anchor="middle"><tspan font-style="italic">P</tspan> &lt; 0.0001</text>
<path d="M612.80,623.40 V618.40 H622.30 V623.40" fill="none" stroke="#171212" stroke-width="0.9"/>
</svg>
</body>
</html>
